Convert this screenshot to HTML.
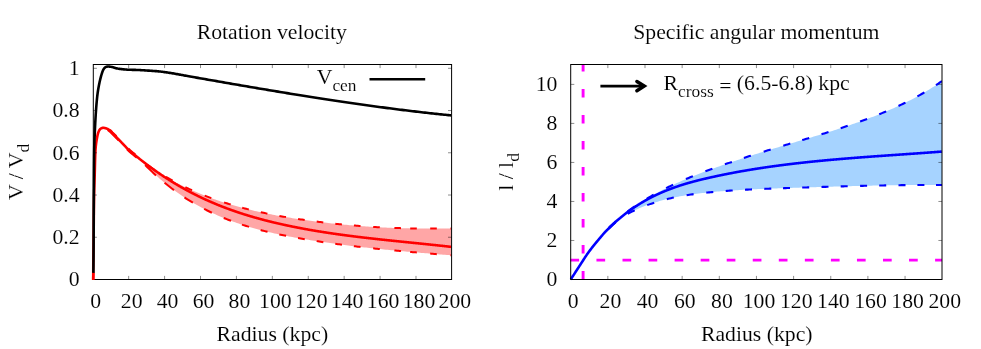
<!DOCTYPE html>
<html><head><meta charset="utf-8"><title>plot</title>
<style>html,body{margin:0;padding:0;background:#fff;}svg{display:block;will-change:transform;}body{font-family:"Liberation Serif",serif;}</style></head>
<body>
<svg width="981" height="349" viewBox="0 0 981 349" font-family='"Liberation Serif", serif' fill="#000">
<style>text{stroke:#fff;stroke-width:0.1px;}</style>
<rect width="981" height="349" fill="#fff"/>
<defs><clipPath id="cl"><rect x="91.7" y="64.5" width="359.9" height="215.6"/></clipPath><clipPath id="cr"><rect x="569.7" y="64.5" width="372.3" height="216.2"/></clipPath></defs>
<g clip-path="url(#cl)">
<path d="M140 159.55 L141.79 160.89 L141.79 161.54 L140 159.64Z M141.79 160.89 L143.59 162.21 L143.59 163.4 L141.79 161.54Z M143.59 162.21 L145.38 163.5 L145.38 165.23 L143.59 163.4Z M145.38 163.5 L147.18 164.77 L147.18 167.03 L145.38 165.23Z M147.18 164.77 L148.97 166.02 L148.97 168.79 L147.18 167.03Z M148.97 166.02 L150.76 167.25 L150.76 170.52 L148.97 168.79Z M150.76 167.25 L152.56 168.46 L152.56 172.22 L150.76 170.52Z M152.56 168.46 L154.35 169.65 L154.35 173.89 L152.56 172.22Z M154.35 169.65 L156.15 170.82 L156.15 175.52 L154.35 173.89Z M156.15 170.82 L157.94 171.96 L157.94 177.12 L156.15 175.52Z M157.94 171.96 L159.73 173.09 L159.73 178.69 L157.94 177.12Z M159.73 173.09 L161.53 174.2 L161.53 180.24 L159.73 178.69Z M161.53 174.2 L163.32 175.29 L163.32 181.75 L161.53 180.24Z M163.32 175.29 L165.12 176.36 L165.12 183.23 L163.32 181.75Z M165.12 176.36 L166.91 177.41 L166.91 184.68 L165.12 183.23Z M166.91 177.41 L168.7 178.44 L168.7 186.11 L166.91 184.68Z M168.7 178.44 L170.5 179.45 L170.5 187.5 L168.7 186.11Z M170.5 179.45 L172.29 180.45 L172.29 188.87 L170.5 187.5Z M172.29 180.45 L174.09 181.42 L174.09 190.21 L172.29 188.87Z M174.09 181.42 L175.88 182.38 L175.88 191.52 L174.09 190.21Z M175.88 182.38 L177.67 183.33 L177.67 192.81 L175.88 191.52Z M177.67 183.33 L179.47 184.25 L179.47 194.07 L177.67 192.81Z M179.47 184.25 L181.26 185.16 L181.26 195.3 L179.47 194.07Z M181.26 185.16 L183.06 186.05 L183.06 196.51 L181.26 195.3Z M183.06 186.05 L184.85 186.93 L184.85 197.69 L183.06 196.51Z M184.85 186.93 L186.64 187.79 L186.64 198.85 L184.85 197.69Z M186.64 187.79 L188.44 188.63 L188.44 199.98 L186.64 198.85Z M188.44 188.63 L190.23 189.46 L190.23 201.09 L188.44 199.98Z M190.23 189.46 L192.03 190.27 L192.03 202.18 L190.23 201.09Z M192.03 190.27 L193.82 191.07 L193.82 203.24 L192.03 202.18Z M193.82 191.07 L195.61 191.85 L195.61 204.28 L193.82 203.24Z M195.61 191.85 L197.41 192.62 L197.41 205.3 L195.61 204.28Z M197.41 192.62 L199.2 193.37 L199.2 206.3 L197.41 205.3Z M199.2 193.37 L201 194.11 L201 207.27 L199.2 206.3Z M201 194.11 L202.79 194.84 L202.79 208.23 L201 207.27Z M202.79 194.84 L204.58 195.55 L204.58 209.16 L202.79 208.23Z M204.58 195.55 L206.38 196.25 L206.38 210.07 L204.58 209.16Z M206.38 196.25 L208.17 196.93 L208.17 210.97 L206.38 210.07Z M208.17 196.93 L209.97 197.6 L209.97 211.84 L208.17 210.97Z M209.97 197.6 L211.76 198.26 L211.76 212.7 L209.97 211.84Z M211.76 198.26 L213.55 198.91 L213.55 213.53 L211.76 212.7Z M213.55 198.91 L215.35 199.55 L215.35 214.35 L213.55 213.53Z M215.35 199.55 L217.14 200.17 L217.14 215.15 L215.35 214.35Z M217.14 200.17 L218.94 200.78 L218.94 215.94 L217.14 215.15Z M218.94 200.78 L220.73 201.38 L220.73 216.7 L218.94 215.94Z M220.73 201.38 L222.52 201.97 L222.52 217.45 L220.73 216.7Z M222.52 201.97 L224.32 202.55 L224.32 218.19 L222.52 217.45Z M224.32 202.55 L226.11 203.12 L226.11 218.91 L224.32 218.19Z M226.11 203.12 L227.91 203.68 L227.91 219.61 L226.11 218.91Z M227.91 203.68 L229.7 204.22 L229.7 220.3 L227.91 219.61Z M229.7 204.22 L231.49 204.76 L231.49 220.97 L229.7 220.3Z M231.49 204.76 L233.29 205.29 L233.29 221.63 L231.49 220.97Z M233.29 205.29 L235.08 205.81 L235.08 222.28 L233.29 221.63Z M235.08 205.81 L236.88 206.32 L236.88 222.91 L235.08 222.28Z M236.88 206.32 L238.67 206.82 L238.67 223.53 L236.88 222.91Z M238.67 206.82 L240.46 207.3 L240.46 224.13 L238.67 223.53Z M240.46 207.3 L242.26 207.79 L242.26 224.72 L240.46 224.13Z M242.26 207.79 L244.05 208.26 L244.05 225.3 L242.26 224.72Z M244.05 208.26 L245.85 208.72 L245.85 225.86 L244.05 225.3Z M245.85 208.72 L247.64 209.17 L247.64 226.42 L245.85 225.86Z M247.64 209.17 L249.43 209.62 L249.43 226.96 L247.64 226.42Z M249.43 209.62 L251.23 210.06 L251.23 227.49 L249.43 226.96Z M251.23 210.06 L253.02 210.49 L253.02 228.01 L251.23 227.49Z M253.02 210.49 L254.82 210.91 L254.82 228.51 L253.02 228.01Z M254.82 210.91 L256.61 211.32 L256.61 229.01 L254.82 228.51Z M256.61 211.32 L258.4 211.73 L258.4 229.5 L256.61 229.01Z M258.4 211.73 L260.2 212.12 L260.2 229.97 L258.4 229.5Z M260.2 212.12 L261.99 212.52 L261.99 230.44 L260.2 229.97Z M261.99 212.52 L263.79 212.9 L263.79 230.89 L261.99 230.44Z M263.79 212.9 L265.58 213.27 L265.58 231.34 L263.79 230.89Z M265.58 213.27 L267.37 213.64 L267.37 231.77 L265.58 231.34Z M267.37 213.64 L269.17 214.01 L269.17 232.2 L267.37 231.77Z M269.17 214.01 L270.96 214.36 L270.96 232.62 L269.17 232.2Z M270.96 214.36 L272.76 214.71 L272.76 233.03 L270.96 232.62Z M272.76 214.71 L274.55 215.05 L274.55 233.43 L272.76 233.03Z M274.55 215.05 L276.34 215.39 L276.34 233.82 L274.55 233.43Z M276.34 215.39 L278.14 215.72 L278.14 234.21 L276.34 233.82Z M278.14 215.72 L279.93 216.04 L279.93 234.59 L278.14 234.21Z M279.93 216.04 L281.73 216.36 L281.73 234.96 L279.93 234.59Z M281.73 216.36 L283.52 216.67 L283.52 235.32 L281.73 234.96Z M283.52 216.67 L285.31 216.98 L285.31 235.68 L283.52 235.32Z M285.31 216.98 L287.11 217.28 L287.11 236.03 L285.31 235.68Z M287.11 217.28 L288.9 217.58 L288.9 236.38 L287.11 236.03Z M288.9 217.58 L290.7 217.87 L290.7 236.72 L288.9 236.38Z M290.7 217.87 L292.49 218.16 L292.49 237.05 L290.7 236.72Z M292.49 218.16 L294.28 218.44 L294.28 237.38 L292.49 237.05Z M294.28 218.44 L296.08 218.72 L296.08 237.7 L294.28 237.38Z M296.08 218.72 L297.87 218.99 L297.87 238.02 L296.08 237.7Z M297.87 218.99 L299.67 219.26 L299.67 238.34 L297.87 238.02Z M299.67 219.26 L301.46 219.52 L301.46 238.65 L299.67 238.34Z M301.46 219.52 L303.25 219.78 L303.25 238.96 L301.46 238.65Z M303.25 219.78 L305.05 220.04 L305.05 239.26 L303.25 238.96Z M305.05 220.04 L306.84 220.29 L306.84 239.56 L305.05 239.26Z M306.84 220.29 L308.64 220.54 L308.64 239.85 L306.84 239.56Z M308.64 220.54 L310.43 220.78 L310.43 240.14 L308.64 239.85Z M310.43 220.78 L312.22 221.02 L312.22 240.43 L310.43 240.14Z M312.22 221.02 L314.02 221.26 L314.02 240.72 L312.22 240.43Z M314.02 221.26 L315.81 221.49 L315.81 241 L314.02 240.72Z M315.81 221.49 L317.61 221.72 L317.61 241.27 L315.81 241Z M317.61 221.72 L319.4 221.94 L319.4 241.55 L317.61 241.27Z M319.4 221.94 L321.19 222.16 L321.19 241.82 L319.4 241.55Z M321.19 222.16 L322.99 222.38 L322.99 242.08 L321.19 241.82Z M322.99 222.38 L324.78 222.59 L324.78 242.35 L322.99 242.08Z M324.78 222.59 L326.58 222.8 L326.58 242.61 L324.78 242.35Z M326.58 222.8 L328.37 223.01 L328.37 242.86 L326.58 242.61Z M328.37 223.01 L330.16 223.21 L330.16 243.12 L328.37 242.86Z M330.16 223.21 L331.96 223.4 L331.96 243.37 L330.16 243.12Z M331.96 223.4 L333.75 223.6 L333.75 243.61 L331.96 243.37Z M333.75 223.6 L335.55 223.79 L335.55 243.86 L333.75 243.61Z M335.55 223.79 L337.34 223.97 L337.34 244.1 L335.55 243.86Z M337.34 223.97 L339.13 224.15 L339.13 244.34 L337.34 244.1Z M339.13 224.15 L340.93 224.33 L340.93 244.57 L339.13 244.34Z M340.93 224.33 L342.72 224.5 L342.72 244.81 L340.93 244.57Z M342.72 224.5 L344.52 224.68 L344.52 245.03 L342.72 244.81Z M344.52 224.68 L346.31 224.84 L346.31 245.26 L344.52 245.03Z M346.31 224.84 L348.1 225 L348.1 245.49 L346.31 245.26Z M348.1 225 L349.9 225.16 L349.9 245.71 L348.1 245.49Z M349.9 225.16 L351.69 225.32 L351.69 245.93 L349.9 245.71Z M351.69 225.32 L353.49 225.47 L353.49 246.14 L351.69 245.93Z M353.49 225.47 L355.28 225.62 L355.28 246.35 L353.49 246.14Z M355.28 225.62 L357.07 225.76 L357.07 246.57 L355.28 246.35Z M357.07 225.76 L358.87 225.9 L358.87 246.77 L357.07 246.57Z M358.87 225.9 L360.66 226.04 L360.66 246.98 L358.87 246.77Z M360.66 226.04 L362.46 226.17 L362.46 247.18 L360.66 246.98Z M362.46 226.17 L364.25 226.3 L364.25 247.39 L362.46 247.18Z M364.25 226.3 L366.04 226.43 L366.04 247.59 L364.25 247.39Z M366.04 226.43 L367.84 226.55 L367.84 247.78 L366.04 247.59Z M367.84 226.55 L369.63 226.67 L369.63 247.98 L367.84 247.78Z M369.63 226.67 L371.43 226.78 L371.43 248.17 L369.63 247.98Z M371.43 226.78 L373.22 226.89 L373.22 248.36 L371.43 248.17Z M373.22 226.89 L375.01 227 L375.01 248.55 L373.22 248.36Z M375.01 227 L376.81 227.11 L376.81 248.74 L375.01 248.55Z M376.81 227.11 L378.6 227.21 L378.6 248.92 L376.81 248.74Z M378.6 227.21 L380.4 227.3 L380.4 249.1 L378.6 248.92Z M380.4 227.3 L382.19 227.4 L382.19 249.28 L380.4 249.1Z M382.19 227.4 L383.98 227.49 L383.98 249.46 L382.19 249.28Z M383.98 227.49 L385.78 227.57 L385.78 249.64 L383.98 249.46Z M385.78 227.57 L387.57 227.65 L387.57 249.82 L385.78 249.64Z M387.57 227.65 L389.37 227.73 L389.37 249.99 L387.57 249.82Z M389.37 227.73 L391.16 227.81 L391.16 250.16 L389.37 249.99Z M391.16 227.81 L392.95 227.88 L392.95 250.33 L391.16 250.16Z M392.95 227.88 L394.75 227.95 L394.75 250.5 L392.95 250.33Z M394.75 227.95 L396.54 228.01 L396.54 250.67 L394.75 250.5Z M396.54 228.01 L398.34 228.08 L398.34 250.84 L396.54 250.67Z M398.34 228.08 L400.13 228.13 L400.13 251 L398.34 250.84Z M400.13 228.13 L401.92 228.19 L401.92 251.17 L400.13 251Z M401.92 228.19 L403.72 228.24 L403.72 251.33 L401.92 251.17Z M403.72 228.24 L405.51 228.29 L405.51 251.49 L403.72 251.33Z M405.51 228.29 L407.31 228.33 L407.31 251.65 L405.51 251.49Z M407.31 228.33 L409.1 228.37 L409.1 251.81 L407.31 251.65Z M409.1 228.37 L410.89 228.41 L410.89 251.97 L409.1 251.81Z M410.89 228.41 L412.69 228.45 L412.69 252.13 L410.89 251.97Z M412.69 228.45 L414.48 228.48 L414.48 252.28 L412.69 252.13Z M414.48 228.48 L416.28 228.5 L416.28 252.44 L414.48 252.28Z M416.28 228.5 L418.07 228.53 L418.07 252.59 L416.28 252.44Z M418.07 228.53 L419.86 228.55 L419.86 252.74 L418.07 252.59Z M419.86 228.55 L421.66 228.57 L421.66 252.9 L419.86 252.74Z M421.66 228.57 L423.45 228.58 L423.45 253.05 L421.66 252.9Z M423.45 228.58 L425.25 228.59 L425.25 253.2 L423.45 253.05Z M425.25 228.59 L427.04 228.6 L427.04 253.35 L425.25 253.2Z M427.04 228.6 L428.83 228.6 L428.83 253.5 L427.04 253.35Z M428.83 228.6 L430.63 228.6 L430.63 253.65 L428.83 253.5Z M430.63 228.6 L432.42 228.6 L432.42 253.8 L430.63 253.65Z M432.42 228.6 L434.22 228.6 L434.22 253.95 L432.42 253.8Z M434.22 228.6 L436.01 228.59 L436.01 254.09 L434.22 253.95Z M436.01 228.59 L437.8 228.58 L437.8 254.24 L436.01 254.09Z M437.8 228.58 L439.6 228.56 L439.6 254.39 L437.8 254.24Z M439.6 228.56 L441.39 228.55 L441.39 254.54 L439.6 254.39Z M441.39 228.55 L443.19 228.52 L443.19 254.68 L441.39 254.54Z M443.19 228.52 L444.98 228.5 L444.98 254.83 L443.19 254.68Z M444.98 228.5 L446.77 228.47 L446.77 254.97 L444.98 254.83Z M446.77 228.47 L448.57 228.44 L448.57 255.12 L446.77 254.97Z M448.57 228.44 L450.36 228.41 L450.36 255.27 L448.57 255.12Z M450.36 228.41 L451.6 228.38 L451.6 255.37 L450.36 255.27Z" fill="rgb(255,166,166)" stroke="none"/>
<path d="M109.9 129.64 L111.22 130.97 L112.54 132.35 L113.86 133.64 L115.18 134.94 L116.5 136.27 M128.6 148.84 L129.92 150.06 L131.24 151.21 L132.56 152.31 L133.88 153.36 L135.2 154.4 M147.3 164.86 L148.62 165.78 L149.94 166.69 L151.26 167.59 L152.58 168.47 L153.9 169.35 M166 176.88 L167.32 177.64 L168.64 178.4 L169.96 179.15 L171.28 179.89 L172.6 180.62 M185.4 187.19 L186.72 187.82 L188.04 188.45 L189.36 189.06 L190.68 189.66 L192 190.26 M204.7 195.59 L206.02 196.11 L207.34 196.62 L208.66 197.12 L209.98 197.61 L211.3 198.1 M224.1 202.48 L225.42 202.9 L226.74 203.32 L228.06 203.72 L229.38 204.13 L230.7 204.53 M242.2 207.77 L243.52 208.12 L244.84 208.46 L246.16 208.8 L247.48 209.13 L248.8 209.46 M260.8 212.26 L262.12 212.54 L263.44 212.83 L264.76 213.1 L266.08 213.38 L267.4 213.65 M279.4 215.95 L280.72 216.18 L282.04 216.42 L283.36 216.65 L284.68 216.87 L286 217.1 M298.1 219.02 L299.42 219.22 L300.74 219.42 L302.06 219.61 L303.38 219.8 L304.7 219.99 M316.7 221.6 L318.02 221.77 L319.34 221.94 L320.66 222.1 L321.98 222.26 L323.3 222.42 M335.3 223.76 L336.62 223.9 L337.94 224.03 L339.26 224.17 L340.58 224.3 L341.9 224.43 M353.9 225.5 L355.22 225.61 L356.54 225.72 L357.86 225.82 L359.18 225.93 L360.5 226.03 M373.2 226.89 L374.52 226.97 L375.84 227.05 L377.16 227.13 L378.48 227.2 L379.8 227.27 M394.4 227.94 L395.72 227.99 L397.04 228.03 L398.36 228.08 L399.68 228.12 L401 228.16 M410.2 228.4 L411.52 228.42 L412.84 228.45 L414.16 228.47 L415.48 228.49 L416.8 228.51 M430.2 228.6 L431.52 228.6 L432.84 228.6 L434.16 228.6 L435.48 228.59 L436.8 228.59 M450.5 228.4 L450.72 228.4 L450.94 228.39 L451.16 228.39 L451.38 228.38 L451.6 228.38" stroke="#f00" stroke-width="2.0" fill="none"/>
<path d="M107.65 130.02 L109.87 131.62 L112.09 133.88 L114.31 136.08 L116.53 138.3 L118.75 140.56 M127 149.24 L128.96 151.19 L130.92 152.94 L132.88 154.56 L134.84 156.12 L136.8 157.64 M145.18 165.03 L147.35 167.2 L149.52 169.32 L151.68 171.4 L153.85 173.42 L156.02 175.4 M164.59 182.8 L166.48 184.33 L168.36 185.83 L170.24 187.3 L172.12 188.74 L174.01 190.15 M184.5 197.46 L186.18 198.55 L187.86 199.62 L189.54 200.67 L191.22 201.69 L192.9 202.7 M204.14 208.93 L205.68 209.72 L207.23 210.5 L208.77 211.26 L210.32 212.01 L211.86 212.75 M223.75 217.96 L225.21 218.55 L226.67 219.13 L228.13 219.7 L229.59 220.26 L231.05 220.81 M241.97 224.63 L243.38 225.09 L244.79 225.53 L246.21 225.98 L247.62 226.41 L249.03 226.84 M260.66 230.09 L262.03 230.45 L263.41 230.8 L264.79 231.14 L266.17 231.48 L267.54 231.81 M279.3 234.46 L280.66 234.74 L282.02 235.02 L283.38 235.3 L284.74 235.57 L286.1 235.84 M298.03 238.05 L299.38 238.29 L300.73 238.52 L302.07 238.75 L303.42 238.98 L304.77 239.21 M316.65 241.13 L317.99 241.33 L319.33 241.54 L320.67 241.74 L322.01 241.94 L323.35 242.14 M335.26 243.82 L336.6 244 L337.93 244.18 L339.27 244.36 L340.6 244.53 L341.94 244.7 M353.87 246.19 L355.2 246.35 L356.53 246.5 L357.87 246.66 L359.2 246.81 L360.53 246.97 M373.18 248.36 L374.51 248.5 L375.84 248.63 L377.16 248.77 L378.49 248.91 L379.82 249.05 M394.38 250.47 L395.71 250.59 L397.04 250.72 L398.36 250.84 L399.69 250.96 L401.02 251.08 M410.18 251.91 L411.51 252.02 L412.84 252.14 L414.16 252.25 L415.49 252.37 L416.82 252.48 M430.18 253.61 L431.51 253.72 L432.84 253.83 L434.16 253.94 L435.49 254.05 L436.82 254.16 M450.48 255.28 L450.71 255.3 L450.93 255.31 L451.15 255.33 L451.38 255.35 L451.6 255.37" stroke="#f00" stroke-width="2.0" fill="none"/>
<path d="M93 279.5 L93.02 278.34 L93.04 277.18 L93.06 276.02 L93.08 274.86 L93.1 273.7 L93.12 272.54 L93.14 271.38 L93.16 270.21 L93.18 269.05 L93.2 267.89 L93.22 266.73 L93.24 265.57 L93.26 264.4 L93.27 263.24 L93.29 262.08 L93.31 260.92 L93.33 259.75 L93.35 258.59 L93.36 257.42 L93.38 256.26 L93.4 255.1 L93.41 253.93 L93.43 252.77 L93.45 251.6 L93.46 250.44 L93.48 249.27 L93.5 248.11 L93.51 246.94 L93.53 245.77 L93.54 244.61 L93.56 243.44 L93.57 242.27 L93.59 241.11 L93.6 239.94 L93.61 238.77 L93.63 237.59 L93.64 236.4 L93.65 235.21 L93.66 234.01 L93.68 232.81 L93.69 231.6 L93.7 230.39 L93.71 229.17 L93.72 227.95 L93.73 226.74 L93.74 225.52 L93.75 224.3 L93.76 223.08 L93.77 221.87 L93.78 220.66 L93.79 219.45 L93.8 218.24 L93.81 217.04 L93.82 215.85 L93.83 214.66 L93.84 213.48 L93.85 212.3 L93.86 211.14 L93.87 209.98 L93.89 208.83 L93.9 207.7 L93.91 206.58 L93.92 205.46 L93.94 204.36 L93.95 203.28 L93.97 202.21 L93.98 201.15 L94 200.12 L94.02 199.09 L94.03 198.08 L94.05 197.09 L94.07 196.11 L94.09 195.14 L94.12 194.18 L94.14 193.23 L94.16 192.29 L94.19 191.36 L94.21 190.44 L94.24 189.52 L94.27 188.61 L94.29 187.71 L94.32 186.81 L94.35 185.91 L94.38 185.02 L94.41 184.12 L94.44 183.23 L94.47 182.34 L94.5 181.45 L94.52 180.56 L94.55 179.66 L94.58 178.76 L94.61 177.86 L94.64 176.95 L94.67 176.04 L94.7 175.11 L94.72 174.18 L94.75 173.24 L94.78 172.29 L94.8 171.33 L94.83 170.36 L94.85 169.38 L94.88 168.4 L94.9 167.42 L94.93 166.44 L94.95 165.45 L94.98 164.47 L95 163.49 L95.03 162.51 L95.05 161.54 L95.08 160.58 L95.11 159.62 L95.14 158.68 L95.17 157.75 L95.2 156.83 L95.23 155.92 L95.26 155.03 L95.3 154.16 L95.33 153.3 L95.37 152.47 L95.41 151.66 L95.45 150.87 L95.49 150.1 L95.54 149.36 L95.59 148.63 L95.65 147.9 L95.71 147.19 L95.78 146.49 L95.85 145.8 L95.93 145.13 L96.01 144.46 L96.09 143.81 L96.17 143.17 L96.26 142.54 L96.35 141.92 L96.44 141.32 L96.54 140.72 L96.63 140.14 L96.72 139.58 L96.82 139.03 L96.91 138.49 L97.01 137.96 L97.1 137.44 L97.2 136.94 L97.29 136.44 L97.39 135.96 L97.5 135.48 L97.6 135.02 L97.71 134.57 L97.82 134.13 L97.94 133.7 L98.06 133.29 L98.18 132.89 L98.31 132.5 L98.45 132.13 L98.59 131.77 L98.75 131.4 L98.91 131.04 L99.09 130.68 L99.27 130.34 L99.46 130.01 L99.66 129.7 L99.87 129.42 L100.08 129.17 L100.31 128.95 L100.54 128.78 L100.79 128.62 L101.06 128.46 L101.35 128.31 L101.65 128.17 L101.97 128.05 L102.28 127.95 L102.6 127.87 L102.9 127.82 L103.2 127.8 L103.48 127.81 L103.76 127.83 L104.04 127.87 L104.32 127.92 L104.59 127.98 L104.87 128.05 L105.15 128.11 L105.43 128.18 L105.7 128.25 L105.98 128.33 L106.25 128.42 L106.52 128.52 L106.8 128.63 L107.08 128.75 L107.36 128.88 L107.65 129.02 L107.96 129.18 L108.28 129.36 L108.61 129.58 L108.95 129.84 L109.3 130.13 L109.66 130.45 L110.02 130.79 L110.39 131.15 L110.76 131.52 L111.13 131.9 L111.51 132.29 L111.88 132.67 L112.25 133.05 L112.62 133.42 L112.97 133.78 L113.33 134.12 L113.68 134.46 L114.03 134.8 L114.38 135.15 L114.73 135.49 L115.08 135.84 L115.43 136.19 L115.77 136.54 L116.12 136.89 L116.47 137.24 L116.81 137.59 L117.16 137.94 L117.51 138.29 L117.85 138.65 L118.2 139 L118.54 139.35 L118.88 139.7 L119.22 140.06 L119.56 140.41 L119.9 140.76 L120.24 141.11 L120.58 141.47 L120.92 141.82 L121.26 142.18 L121.61 142.54 L121.95 142.91 L122.3 143.27 L122.66 143.64 L123.02 144.02 L123.38 144.39 L123.74 144.78 L124.11 145.16 L124.47 145.55 L124.84 145.94 L125.21 146.34 L125.58 146.73 L125.95 147.13 L126.33 147.54 L126.71 147.94 L127.1 148.34 L127.5 148.75 L127.9 149.15 L128.31 149.55 L128.72 149.96 L129.15 150.36 L129.59 150.76 L130.05 151.18 L130.53 151.6 L131.03 152.03 L131.55 152.46 L132.07 152.9 L132.61 153.33 L133.15 153.77 L133.69 154.21 L134.24 154.64 L134.78 155.07 L135.31 155.49 L135.84 155.9 L136.35 156.3 L136.85 156.69 L137.34 157.07 L137.8 157.43 L138.23 157.77 L138.64 158.1 L139.02 158.41 L139.39 158.7 L139.74 158.98 L140.07 159.25 L140.4 159.5 L140.71 159.76 L141.03 160 L141.33 160.25 L141.64 160.49 L141.95 160.73 L142.26 160.98 L142.58 161.23 L142.91 161.49 L143.24 161.74 L143.57 162 L143.9 162.25 L144.23 162.51 L144.56 162.76 L144.89 163.02 L145.22 163.27 L145.55 163.52 L145.88 163.77 L146.21 164.02 L146.54 164.28 L146.87 164.53 L147.2 164.78 L147.53 165.02 L147.86 165.27 L148.19 165.52 L148.52 165.77 L148.86 166.02 L149.19 166.26 L149.52 166.51 L149.85 166.75 L150.18 167 L150.52 167.24 L150.85 167.49 L151.18 167.73 L151.51 167.97 L151.85 168.22 L152.18 168.46 L152.51 168.7 L152.85 168.94 L153.18 169.18 L153.51 169.42 L153.85 169.66 L154.18 169.9 L154.52 170.13 L154.85 170.37 L155.19 170.61 L155.52 170.84 L155.85 171.08 L156.19 171.32 L156.52 171.55 L156.86 171.78 L157.2 172.02 L157.53 172.25 L157.87 172.48 L158.2 172.72 L158.54 172.95 L158.87 173.18 L159.21 173.41 L159.55 173.64 L159.88 173.87 L160.22 174.1 L160.56 174.32 L160.89 174.55 L161.23 174.78 L161.57 175.01 L161.91 175.23 L162.24 175.46 L162.58 175.68 L162.92 175.91 L163.26 176.13 L163.6 176.35 L163.93 176.58 L164.27 176.8 L164.61 177.02 L164.95 177.24 L165.29 177.46 L165.63 177.68 L165.97 177.9 L166.31 178.12 L166.65 178.34 L166.99 178.56 L167.33 178.78 L167.67 178.99 L168.01 179.21 L168.35 179.43 L168.69 179.64 L169.03 179.86 L169.37 180.07 L169.71 180.29 L170.05 180.5 L170.39 180.71 L170.73 180.92 L171.07 181.14 L171.41 181.35 L171.76 181.56 L172.1 181.77 L172.44 181.98 L172.78 182.19 L173.12 182.39 L173.47 182.6 L173.81 182.81 L174.15 183.02 L174.49 183.22 L174.84 183.43 L175.18 183.63 L175.52 183.84 L175.87 184.04 L176.21 184.25 L176.55 184.45 L176.9 184.65 L177.24 184.86 L177.58 185.06 L177.93 185.26 L178.27 185.46 L178.62 185.66 L178.96 185.86 L179.31 186.06 L179.65 186.26 L180 186.46 L180.34 186.65 L180.69 186.85 L181.03 187.05 L181.38 187.24 L181.72 187.44 L182.07 187.63 L182.41 187.83 L182.76 188.02 L183.1 188.21 L183.45 188.41 L183.8 188.6 L184.14 188.79 L184.49 188.98 L184.84 189.17 L185.18 189.36 L185.53 189.55 L185.88 189.74 L186.22 189.93 L186.57 190.12 L186.92 190.31 L187.27 190.5 L187.61 190.68 L187.96 190.87 L188.31 191.05 L188.66 191.24 L189 191.42 L189.35 191.61 L189.7 191.79 L190.05 191.97 L190.4 192.16 L190.75 192.34 L191.09 192.52 L191.44 192.7 L191.79 192.88 L192.14 193.06 L192.49 193.24 L192.84 193.42 L193.19 193.6 L193.54 193.78 L193.89 193.96 L194.24 194.13 L194.59 194.31 L194.94 194.48 L195.29 194.66 L195.64 194.84 L195.99 195.01 L196.34 195.18 L196.69 195.36 L197.04 195.53 L197.39 195.7 L197.74 195.88 L198.09 196.05 L198.44 196.22 L198.8 196.39 L199.15 196.56 L199.5 196.73 L199.85 196.9 L200.2 197.07 L200.55 197.23 L200.9 197.4 L201.26 197.57 L201.61 197.74 L201.96 197.9 L202.31 198.07 L202.66 198.23 L203.02 198.4 L203.37 198.56 L203.72 198.73 L204.08 198.89 L204.43 199.05 L204.78 199.21 L205.13 199.38 L205.49 199.54 L205.84 199.7 L206.19 199.86 L206.55 200.02 L206.9 200.18 L207.25 200.34 L207.61 200.49 L207.96 200.65 L208.32 200.81 L208.67 200.97 L209.02 201.12 L209.38 201.28 L209.73 201.43 L210.09 201.59 L210.44 201.74 L210.8 201.9 L211.15 202.05 L211.51 202.21 L211.86 202.36 L212.22 202.51 L212.57 202.66 L212.93 202.81 L213.28 202.96 L213.64 203.11 L213.99 203.26 L214.35 203.41 L214.7 203.56 L215.06 203.71 L215.41 203.86 L215.77 204.01 L216.13 204.15 L216.48 204.3 L216.84 204.45 L217.19 204.59 L217.55 204.74 L217.91 204.88 L218.26 205.03 L218.62 205.17 L218.98 205.32 L219.33 205.46 L219.69 205.6 L220.05 205.74 L220.4 205.89 L220.76 206.03 L221.12 206.17 L221.48 206.31 L221.83 206.45 L222.19 206.59 L222.55 206.73 L222.91 206.87 L223.26 207 L223.62 207.14 L223.98 207.28 L224.34 207.42 L224.69 207.55 L225.05 207.69 L225.41 207.82 L225.77 207.96 L226.13 208.09 L226.48 208.23 L226.84 208.36 L227.2 208.49 L227.56 208.63 L227.92 208.76 L228.28 208.89 L228.64 209.02 L228.99 209.16 L229.35 209.29 L229.71 209.42 L230.07 209.55 L230.43 209.68 L230.79 209.81 L231.15 209.93 L231.51 210.06 L231.87 210.19 L232.23 210.32 L232.59 210.44 L232.95 210.57 L233.31 210.7 L233.67 210.82 L234.03 210.95 L234.39 211.07 L234.75 211.2 L235.11 211.32 L235.47 211.45 L235.83 211.57 L236.19 211.69 L236.55 211.82 L236.91 211.94 L237.27 212.06 L237.63 212.18 L237.99 212.3 L238.35 212.42 L238.71 212.54 L239.07 212.66 L239.43 212.78 L239.79 212.9 L240.15 213.02 L240.51 213.14 L240.87 213.25 L241.24 213.37 L241.6 213.49 L241.96 213.61 L242.32 213.72 L242.68 213.84 L243.04 213.95 L243.4 214.07 L243.77 214.18 L244.13 214.3 L244.49 214.41 L244.85 214.52 L245.21 214.64 L245.57 214.75 L245.94 214.86 L246.3 214.98 L246.66 215.09 L247.02 215.2 L247.38 215.31 L247.75 215.42 L248.11 215.53 L248.47 215.64 L248.83 215.75 L249.19 215.86 L249.56 215.97 L249.92 216.08 L250.28 216.18 L250.64 216.29 L251.01 216.4 L251.37 216.51 L251.73 216.61 L252.09 216.72 L252.46 216.82 L252.82 216.93 L253.18 217.03 L253.55 217.14 L253.91 217.24 L254.27 217.35 L254.64 217.45 L255 217.56 L255.36 217.66 L255.72 217.76 L256.09 217.86 L256.45 217.97 L256.81 218.07 L257.18 218.17 L257.54 218.27 L257.91 218.37 L258.27 218.47 L258.63 218.57 L259 218.67 L259.36 218.77 L259.72 218.87 L260.09 218.97 L260.45 219.07 L260.81 219.16 L261.18 219.26 L261.54 219.36 L261.91 219.46 L262.27 219.55 L262.63 219.65 L263 219.75 L263.36 219.84 L263.73 219.94 L264.09 220.03 L264.46 220.13 L264.82 220.22 L265.18 220.32 L265.55 220.41 L265.91 220.5 L266.28 220.6 L266.64 220.69 L267.01 220.78 L267.37 220.87 L267.74 220.97 L268.1 221.06 L268.46 221.15 L268.83 221.24 L269.19 221.33 L269.56 221.42 L269.92 221.51 L270.29 221.6 L270.65 221.69 L271.02 221.78 L271.38 221.87 L271.75 221.96 L272.11 222.05 L272.48 222.14 L272.84 222.23 L273.21 222.31 L273.57 222.4 L273.94 222.49 L274.3 222.58 L274.67 222.66 L275.03 222.75 L275.4 222.83 L275.77 222.92 L276.13 223.01 L276.5 223.09 L276.86 223.18 L277.23 223.26 L277.59 223.35 L277.96 223.43 L278.32 223.51 L278.69 223.6 L279.05 223.68 L279.42 223.76 L279.79 223.85 L280.15 223.93 L280.52 224.01 L280.88 224.09 L281.25 224.18 L281.61 224.26 L281.98 224.34 L282.35 224.42 L282.71 224.5 L283.08 224.58 L283.44 224.66 L283.81 224.74 L284.18 224.82 L284.54 224.9 L284.91 224.98 L285.27 225.06 L285.64 225.14 L286.01 225.22 L286.37 225.3 L286.74 225.38 L287.1 225.45 L287.47 225.53 L287.84 225.61 L288.2 225.69 L288.57 225.76 L288.94 225.84 L289.3 225.92 L289.67 225.99 L290.03 226.07 L290.4 226.15 L290.77 226.22 L291.13 226.3 L291.5 226.37 L291.87 226.45 L292.23 226.52 L292.6 226.6 L292.97 226.67 L293.33 226.74 L293.7 226.82 L294.07 226.89 L294.43 226.97 L294.8 227.04 L295.17 227.11 L295.53 227.18 L295.9 227.26 L296.27 227.33 L296.63 227.4 L297 227.47 L297.37 227.55 L297.73 227.62 L298.1 227.69 L298.47 227.76 L298.83 227.83 L299.2 227.9 L299.57 227.97 L299.94 228.04 L300.3 228.11 L300.67 228.18 L301.04 228.25 L301.4 228.32 L301.77 228.39 L302.14 228.46 L302.5 228.53 L302.87 228.59 L303.24 228.66 L303.61 228.73 L303.97 228.8 L304.34 228.87 L304.71 228.93 L305.08 229 L305.44 229.07 L305.81 229.14 L306.18 229.2 L306.54 229.27 L306.91 229.33 L307.28 229.4 L307.65 229.47 L308.01 229.53 L308.38 229.6 L308.75 229.66 L309.12 229.73 L309.48 229.79 L309.85 229.86 L310.22 229.92 L310.59 229.99 L310.95 230.05 L311.32 230.11 L311.69 230.18 L312.06 230.24 L312.42 230.3 L312.79 230.37 L313.16 230.43 L313.53 230.49 L313.89 230.56 L314.26 230.62 L314.63 230.68 L315 230.74 L315.36 230.8 L315.73 230.87 L316.1 230.93 L316.47 230.99 L316.84 231.05 L317.2 231.11 L317.57 231.17 L317.94 231.23 L318.31 231.29 L318.67 231.35 L319.04 231.41 L319.41 231.47 L319.78 231.53 L320.15 231.59 L320.51 231.65 L320.88 231.71 L321.25 231.77 L321.62 231.83 L321.99 231.89 L322.35 231.94 L322.72 232 L323.09 232.06 L323.46 232.12 L323.83 232.18 L324.19 232.23 L324.56 232.29 L324.93 232.35 L325.3 232.4 L325.67 232.46 L326.03 232.52 L326.4 232.57 L326.77 232.63 L327.14 232.69 L327.51 232.74 L327.88 232.8 L328.24 232.85 L328.61 232.91 L328.98 232.97 L329.35 233.02 L329.72 233.08 L330.08 233.13 L330.45 233.19 L330.82 233.24 L331.19 233.3 L331.56 233.35 L331.93 233.4 L332.29 233.46 L332.66 233.51 L333.03 233.56 L333.4 233.62 L333.77 233.67 L334.14 233.73 L334.5 233.78 L334.87 233.83 L335.24 233.88 L335.61 233.94 L335.98 233.99 L336.35 234.04 L336.71 234.09 L337.08 234.15 L337.45 234.2 L337.82 234.25 L338.19 234.3 L338.56 234.35 L338.93 234.4 L339.29 234.45 L339.66 234.51 L340.03 234.56 L340.4 234.61 L340.77 234.66 L341.14 234.71 L341.51 234.76 L341.87 234.81 L342.24 234.86 L342.61 234.91 L342.98 234.96 L343.35 235.01 L343.72 235.06 L344.09 235.11 L344.45 235.16 L344.82 235.21 L345.19 235.26 L345.56 235.3 L345.93 235.35 L346.3 235.4 L346.67 235.45 L347.03 235.5 L347.4 235.55 L347.77 235.6 L348.14 235.64 L348.51 235.69 L348.88 235.74 L349.25 235.79 L349.62 235.83 L349.98 235.88 L350.35 235.93 L350.72 235.98 L351.09 236.02 L351.46 236.07 L351.83 236.12 L352.2 236.16 L352.57 236.21 L352.93 236.26 L353.3 236.3 L353.67 236.35 L354.04 236.4 L354.41 236.44 L354.78 236.49 L355.15 236.53 L355.52 236.58 L355.89 236.62 L356.25 236.67 L356.62 236.72 L356.99 236.76 L357.36 236.81 L357.73 236.85 L358.1 236.9 L358.47 236.94 L358.84 236.99 L359.21 237.03 L359.57 237.07 L359.94 237.12 L360.31 237.16 L360.68 237.21 L361.05 237.25 L361.42 237.3 L361.79 237.34 L362.16 237.38 L362.53 237.43 L362.9 237.47 L363.26 237.51 L363.63 237.56 L364 237.6 L364.37 237.65 L364.74 237.69 L365.11 237.73 L365.48 237.77 L365.85 237.82 L366.22 237.86 L366.59 237.9 L366.95 237.95 L367.32 237.99 L367.69 238.03 L368.06 238.07 L368.43 238.12 L368.8 238.16 L369.17 238.2 L369.54 238.24 L369.91 238.28 L370.28 238.33 L370.65 238.37 L371.01 238.41 L371.38 238.45 L371.75 238.49 L372.12 238.53 L372.49 238.58 L372.86 238.62 L373.23 238.66 L373.6 238.7 L373.97 238.74 L374.34 238.78 L374.71 238.82 L375.07 238.86 L375.44 238.9 L375.81 238.95 L376.18 238.99 L376.55 239.03 L376.92 239.07 L377.29 239.11 L377.66 239.15 L378.03 239.19 L378.4 239.23 L378.77 239.27 L379.14 239.31 L379.5 239.35 L379.87 239.39 L380.24 239.43 L380.61 239.47 L380.98 239.51 L381.35 239.55 L381.72 239.59 L382.09 239.63 L382.46 239.67 L382.83 239.71 L383.2 239.75 L383.57 239.79 L383.94 239.83 L384.3 239.87 L384.67 239.91 L385.04 239.95 L385.41 239.98 L385.78 240.02 L386.15 240.06 L386.52 240.1 L386.89 240.14 L387.26 240.18 L387.63 240.22 L388 240.26 L388.37 240.3 L388.74 240.34 L389.1 240.37 L389.47 240.41 L389.84 240.45 L390.21 240.49 L390.58 240.53 L390.95 240.57 L391.32 240.61 L391.69 240.64 L392.06 240.68 L392.43 240.72 L392.8 240.76 L393.17 240.8 L393.54 240.84 L393.91 240.87 L394.27 240.91 L394.64 240.95 L395.01 240.99 L395.38 241.03 L395.75 241.07 L396.12 241.1 L396.49 241.14 L396.86 241.18 L397.23 241.22 L397.6 241.26 L397.97 241.29 L398.34 241.33 L398.71 241.37 L399.08 241.41 L399.44 241.45 L399.81 241.48 L400.18 241.52 L400.55 241.56 L400.92 241.6 L401.29 241.63 L401.66 241.67 L402.03 241.71 L402.4 241.75 L402.77 241.79 L403.14 241.82 L403.51 241.86 L403.88 241.9 L404.25 241.94 L404.62 241.97 L404.98 242.01 L405.35 242.05 L405.72 242.09 L406.09 242.12 L406.46 242.16 L406.83 242.2 L407.2 242.24 L407.57 242.27 L407.94 242.31 L408.31 242.35 L408.68 242.39 L409.05 242.42 L409.42 242.46 L409.79 242.5 L410.16 242.54 L410.52 242.57 L410.89 242.61 L411.26 242.65 L411.63 242.69 L412 242.72 L412.37 242.76 L412.74 242.8 L413.11 242.84 L413.48 242.87 L413.85 242.91 L414.22 242.95 L414.59 242.99 L414.96 243.02 L415.33 243.06 L415.69 243.1 L416.06 243.14 L416.43 243.17 L416.8 243.21 L417.17 243.25 L417.54 243.29 L417.91 243.32 L418.28 243.36 L418.65 243.4 L419.02 243.44 L419.39 243.48 L419.76 243.51 L420.13 243.55 L420.5 243.59 L420.87 243.63 L421.23 243.66 L421.6 243.7 L421.97 243.74 L422.34 243.78 L422.71 243.82 L423.08 243.85 L423.45 243.89 L423.82 243.93 L424.19 243.97 L424.56 244 L424.93 244.04 L425.3 244.08 L425.67 244.12 L426.04 244.16 L426.4 244.19 L426.77 244.23 L427.14 244.27 L427.51 244.31 L427.88 244.35 L428.25 244.39 L428.62 244.42 L428.99 244.46 L429.36 244.5 L429.73 244.54 L430.1 244.58 L430.47 244.62 L430.84 244.66 L431.21 244.69 L431.57 244.73 L431.94 244.77 L432.31 244.81 L432.68 244.85 L433.05 244.89 L433.42 244.93 L433.79 244.96 L434.16 245 L434.53 245.04 L434.9 245.08 L435.27 245.12 L435.64 245.16 L436.01 245.2 L436.38 245.24 L436.74 245.28 L437.11 245.32 L437.48 245.36 L437.85 245.4 L438.22 245.44 L438.59 245.47 L438.96 245.51 L439.33 245.55 L439.7 245.59 L440.07 245.63 L440.44 245.67 L440.81 245.71 L441.17 245.75 L441.54 245.79 L441.91 245.83 L442.28 245.87 L442.65 245.91 L443.02 245.95 L443.39 245.99 L443.76 246.03 L444.13 246.07 L444.5 246.11 L444.87 246.16 L445.24 246.2 L445.61 246.24 L445.97 246.28 L446.34 246.32 L446.71 246.36 L447.1 246.4 L447.51 246.45 L447.93 246.49 L448.35 246.54 L448.78 246.59 L449.19 246.64 L449.58 246.68 L449.94 246.72 L450.25 246.76 L450.52 246.79 L450.74 246.81 L450.92 246.83 L451.07 246.85 L451.2 246.86 L451.3 246.87" stroke="#f00" stroke-width="2.6" fill="none" stroke-linejoin="round"/>
<path d="M93.4 273 L93.42 271.7 L93.43 270.36 L93.45 268.98 L93.46 267.55 L93.48 266.08 L93.49 264.57 L93.5 263.02 L93.52 261.43 L93.53 259.8 L93.54 258.13 L93.56 256.42 L93.57 254.67 L93.58 252.89 L93.59 251.07 L93.6 249.21 L93.62 247.28 L93.63 245.26 L93.64 243.18 L93.64 241.03 L93.65 238.81 L93.66 236.55 L93.67 234.23 L93.68 231.88 L93.69 229.48 L93.69 227.06 L93.7 224.61 L93.71 222.15 L93.72 219.67 L93.73 217.19 L93.74 214.71 L93.75 212.24 L93.75 209.77 L93.77 207.33 L93.78 204.91 L93.79 202.53 L93.8 200.18 L93.81 197.82 L93.82 195.41 L93.84 192.95 L93.85 190.45 L93.87 187.92 L93.88 185.36 L93.9 182.8 L93.91 180.23 L93.93 177.67 L93.95 175.13 L93.96 172.61 L93.98 170.13 L94 167.69 L94.02 165.31 L94.04 162.99 L94.06 160.74 L94.09 158.58 L94.11 156.51 L94.13 154.54 L94.16 152.68 L94.18 150.94 L94.21 149.33 L94.24 147.84 L94.27 146.44 L94.31 145.13 L94.35 143.89 L94.39 142.69 L94.43 141.52 L94.48 140.36 L94.53 139.2 L94.58 138 L94.63 136.77 L94.68 135.47 L94.74 134.11 L94.79 132.71 L94.85 131.29 L94.92 129.84 L94.98 128.38 L95.05 126.9 L95.12 125.41 L95.2 123.91 L95.27 122.4 L95.36 120.9 L95.44 119.4 L95.52 117.9 L95.61 116.41 L95.7 114.93 L95.8 113.44 L95.9 111.92 L96.01 110.38 L96.12 108.83 L96.24 107.27 L96.37 105.72 L96.49 104.18 L96.62 102.66 L96.76 101.18 L96.9 99.73 L97.03 98.33 L97.18 96.98 L97.32 95.7 L97.46 94.49 L97.61 93.35 L97.76 92.26 L97.91 91.22 L98.07 90.2 L98.23 89.21 L98.4 88.23 L98.58 87.25 L98.76 86.26 L98.95 85.25 L99.15 84.22 L99.37 83.16 L99.6 82.08 L99.84 81 L100.09 79.93 L100.34 78.87 L100.61 77.84 L100.87 76.84 L101.14 75.89 L101.4 75 L101.66 74.14 L101.93 73.29 L102.19 72.47 L102.47 71.68 L102.75 70.94 L103.05 70.25 L103.36 69.64 L103.69 69.09 L104.05 68.56 L104.43 68.07 L104.83 67.64 L105.25 67.29 L105.69 67.06 L106.15 66.88 L106.63 66.71 L107.14 66.59 L107.68 66.51 L108.24 66.5 L108.84 66.54 L109.47 66.61 L110.13 66.7 L110.82 66.8 L111.52 66.92 L112.23 67.04 L112.96 67.2 L113.7 67.41 L114.46 67.65 L115.25 67.9 L116.06 68.15 L116.9 68.37 L117.77 68.56 L118.68 68.71 L119.64 68.86 L120.64 69 L121.68 69.14 L122.74 69.26 L123.82 69.38 L124.9 69.48 L125.98 69.57 L127.05 69.65 L128.1 69.7 L129.14 69.75 L130.18 69.78 L131.22 69.82 L132.26 69.84 L133.3 69.87 L134.34 69.89 L135.38 69.92 L136.42 69.95 L137.46 69.98 L138.51 70.02 L139.55 70.07 L140.6 70.12 L141.66 70.18 L142.71 70.24 L143.76 70.31 L144.81 70.38 L145.86 70.44 L146.91 70.51 L147.96 70.58 L149 70.65 L150.04 70.72 L151.08 70.79 L152.12 70.86 L153.16 70.93 L154.2 71.01 L155.23 71.09 L156.27 71.17 L157.31 71.26 L158.35 71.36 L159.38 71.46 L160.42 71.57 L161.45 71.7 L162.49 71.82 L163.53 71.96 L164.56 72.1 L165.6 72.24 L166.63 72.39 L167.67 72.54 L168.71 72.69 L169.76 72.85 L170.82 73.02 L171.88 73.19 L172.94 73.37 L173.99 73.56 L175.04 73.74 L176.07 73.92 L177.08 74.1 L178.07 74.28 L179.01 74.45 L179.9 74.62 L180.74 74.77 L181.57 74.93 L182.41 75.09 L183.28 75.26 L184.2 75.44 L185.19 75.62 L186.28 75.82 L187.48 76.04 L188.77 76.27 L190.15 76.52 L191.6 76.78 L193.12 77.04 L194.69 77.32 L196.31 77.6 L197.97 77.89 L199.65 78.19 L201.36 78.48 L203.06 78.78 L204.77 79.08 L206.46 79.37 L208.13 79.66 L209.78 79.95 L211.45 80.24 L213.14 80.54 L214.85 80.84 L216.58 81.14 L218.32 81.44 L220.08 81.75 L221.84 82.06 L223.61 82.36 L225.39 82.67 L227.17 82.98 L228.95 83.29 L230.73 83.6 L232.5 83.91 L234.27 84.21 L236.03 84.52 L237.78 84.82 L239.53 85.12 L241.28 85.42 L243.03 85.72 L244.78 86.02 L246.53 86.32 L248.28 86.62 L250.03 86.92 L251.78 87.22 L253.53 87.51 L255.28 87.81 L257.03 88.11 L258.78 88.41 L260.53 88.7 L262.28 89 L264.03 89.29 L265.78 89.58 L267.53 89.88 L269.29 90.17 L271.06 90.47 L272.83 90.76 L274.61 91.06 L276.38 91.35 L278.16 91.65 L279.93 91.94 L281.7 92.23 L283.46 92.52 L285.21 92.81 L286.96 93.1 L288.69 93.38 L290.4 93.66 L292.1 93.94 L293.78 94.21 L295.43 94.48 L297.07 94.74 L298.68 95 L300.28 95.26 L301.86 95.51 L303.43 95.76 L304.99 96.01 L306.54 96.26 L308.09 96.5 L309.64 96.75 L311.2 96.99 L312.76 97.24 L314.34 97.49 L315.92 97.73 L317.53 97.98 L319.15 98.23 L320.77 98.49 L322.4 98.74 L324.03 98.99 L325.67 99.24 L327.31 99.49 L328.96 99.74 L330.62 100 L332.28 100.25 L333.94 100.5 L335.61 100.75 L337.29 101 L338.97 101.25 L340.66 101.5 L342.35 101.75 L344.06 102 L345.77 102.26 L347.49 102.51 L349.22 102.76 L350.95 103.01 L352.7 103.26 L354.45 103.52 L356.21 103.77 L357.97 104.02 L359.73 104.27 L361.49 104.52 L363.26 104.77 L365.03 105.02 L366.79 105.26 L368.55 105.51 L370.31 105.75 L372.07 105.99 L373.82 106.23 L375.58 106.47 L377.33 106.7 L379.08 106.94 L380.84 107.17 L382.59 107.41 L384.35 107.64 L386.11 107.87 L387.86 108.1 L389.62 108.33 L391.37 108.56 L393.13 108.78 L394.88 109 L396.64 109.23 L398.39 109.45 L400.15 109.67 L401.9 109.88 L403.67 110.1 L405.45 110.32 L407.23 110.54 L409.03 110.75 L410.82 110.97 L412.61 111.18 L414.4 111.39 L416.19 111.6 L417.96 111.81 L419.73 112.02 L421.48 112.22 L423.21 112.42 L424.93 112.61 L426.62 112.8 L428.29 112.99 L429.93 113.17 L431.55 113.35 L433.15 113.52 L434.74 113.7 L436.32 113.87 L437.89 114.03 L439.44 114.2 L440.97 114.36 L442.49 114.52 L444 114.67 L445.49 114.83 L446.96 114.98 L448.42 115.12 L449.87 115.26 L451.3 115.4" stroke="#000" stroke-width="2.6" fill="none" stroke-linejoin="round"/>
</g>
<rect x="93.3" y="64.5" width="358.3" height="215" fill="none" stroke="#000" stroke-width="1"/>
<path d="M128.67 279.5 v-3.6 M128.67 64.5 v3.6 M164.58 279.5 v-3.6 M164.58 64.5 v3.6 M200.5 279.5 v-3.6 M200.5 64.5 v3.6 M236.41 279.5 v-3.6 M236.41 64.5 v3.6 M272.33 279.5 v-3.6 M272.33 64.5 v3.6 M308.25 279.5 v-3.6 M308.25 64.5 v3.6 M344.16 279.5 v-3.6 M344.16 64.5 v3.6 M380.08 279.5 v-3.6 M380.08 64.5 v3.6 M415.99 279.5 v-3.6 M415.99 64.5 v3.6 M93.3 237.26 h3.6 M451.6 237.26 h-3.6 M93.3 195.02 h3.6 M451.6 195.02 h-3.6 M93.3 152.78 h3.6 M451.6 152.78 h-3.6 M93.3 110.54 h3.6 M451.6 110.54 h-3.6 M93.3 68.3 h3.6 M451.6 68.3 h-3.6" stroke="#000" stroke-width="0.45" fill="none"/>
<path d="M93.25 280 L93.4 272.9" stroke="#f00" stroke-width="2.7" fill="none"/>
<path d="M369.5 79.2 H425.2" stroke="#000" stroke-width="2.5"/>
<text transform="translate(316.7,84.3) scale(1.087,1)" text-anchor="start" font-size="20" >V<tspan font-size="16" dy="6.2">cen</tspan></text>
<text transform="translate(271.8,39.2) scale(1.087,1)" text-anchor="middle" font-size="20" >Rotation velocity</text>
<text transform="translate(272.4,340.5) scale(1.087,1)" text-anchor="middle" font-size="20" >Radius (kpc)</text>
<text transform="translate(95.75,307.5) scale(1.087,1)" text-anchor="middle" font-size="20" >0</text>
<text transform="translate(131.67,307.5) scale(1.087,1)" text-anchor="middle" font-size="20" >20</text>
<text transform="translate(167.58,307.5) scale(1.087,1)" text-anchor="middle" font-size="20" >40</text>
<text transform="translate(203.5,307.5) scale(1.087,1)" text-anchor="middle" font-size="20" >60</text>
<text transform="translate(239.41,307.5) scale(1.087,1)" text-anchor="middle" font-size="20" >80</text>
<text transform="translate(275.33,307.5) scale(1.087,1)" text-anchor="middle" font-size="20" >100</text>
<text transform="translate(311.25,307.5) scale(1.087,1)" text-anchor="middle" font-size="20" >120</text>
<text transform="translate(347.16,307.5) scale(1.087,1)" text-anchor="middle" font-size="20" >140</text>
<text transform="translate(383.08,307.5) scale(1.087,1)" text-anchor="middle" font-size="20" >160</text>
<text transform="translate(418.99,307.5) scale(1.087,1)" text-anchor="middle" font-size="20" >180</text>
<text transform="translate(454.91,307.5) scale(1.087,1)" text-anchor="middle" font-size="20" >200</text>
<text transform="translate(79.6,286.3) scale(1.087,1)" text-anchor="end" font-size="20" >0</text>
<text transform="translate(79.6,244.06) scale(1.087,1)" text-anchor="end" font-size="20" >0.2</text>
<text transform="translate(79.6,201.82) scale(1.087,1)" text-anchor="end" font-size="20" >0.4</text>
<text transform="translate(79.6,159.58) scale(1.087,1)" text-anchor="end" font-size="20" >0.6</text>
<text transform="translate(79.6,117.34) scale(1.087,1)" text-anchor="end" font-size="20" >0.8</text>
<text transform="translate(79.6,75.1) scale(1.087,1)" text-anchor="end" font-size="20" >1</text>
<text transform="translate(22.7,172) rotate(-90) scale(1.087,1)" text-anchor="middle" font-size="20">V / V<tspan font-size="16" dy="6.2">d</tspan></text>
<g clip-path="url(#cr)">
<path d="M618.7 218.26 L620.56 216.79 L620.56 217.71 L618.7 218.81Z M620.56 216.79 L622.41 215.35 L622.41 216.63 L620.56 217.71Z M622.41 215.35 L624.27 213.94 L624.27 215.59 L622.41 216.63Z M624.27 213.94 L626.13 212.55 L626.13 214.59 L624.27 215.59Z M626.13 212.55 L627.99 211.19 L627.99 213.61 L626.13 214.59Z M627.99 211.19 L629.84 209.85 L629.84 212.66 L627.99 213.61Z M629.84 209.85 L631.7 208.54 L631.7 211.74 L629.84 212.66Z M631.7 208.54 L633.56 207.25 L633.56 210.85 L631.7 211.74Z M633.56 207.25 L635.42 205.99 L635.42 209.98 L633.56 210.85Z M635.42 205.99 L637.27 204.75 L637.27 209.15 L635.42 209.98Z M637.27 204.75 L639.13 203.53 L639.13 208.34 L637.27 209.15Z M639.13 203.53 L640.99 202.34 L640.99 207.56 L639.13 208.34Z M640.99 202.34 L642.85 201.17 L642.85 206.8 L640.99 207.56Z M642.85 201.17 L644.7 200.01 L644.7 206.07 L642.85 206.8Z M644.7 200.01 L646.56 198.88 L646.56 205.37 L644.7 206.07Z M646.56 198.88 L648.42 197.78 L648.42 204.69 L646.56 205.37Z M648.42 197.78 L650.28 196.69 L650.28 204.03 L648.42 204.69Z M650.28 196.69 L652.13 195.62 L652.13 203.4 L650.28 204.03Z M652.13 195.62 L653.99 194.57 L653.99 202.79 L652.13 203.4Z M653.99 194.57 L655.85 193.54 L655.85 202.2 L653.99 202.79Z M655.85 193.54 L657.71 192.52 L657.71 201.63 L655.85 202.2Z M657.71 192.52 L659.56 191.53 L659.56 201.08 L657.71 201.63Z M659.56 191.53 L661.42 190.55 L661.42 200.56 L659.56 201.08Z M661.42 190.55 L663.28 189.59 L663.28 200.05 L661.42 200.56Z M663.28 189.59 L665.14 188.65 L665.14 199.57 L663.28 200.05Z M665.14 188.65 L666.99 187.72 L666.99 199.1 L665.14 199.57Z M666.99 187.72 L668.85 186.81 L668.85 198.65 L666.99 199.1Z M668.85 186.81 L670.71 185.91 L670.71 198.22 L668.85 198.65Z M670.71 185.91 L672.57 185.03 L672.57 197.81 L670.71 198.22Z M672.57 185.03 L674.42 184.16 L674.42 197.41 L672.57 197.81Z M674.42 184.16 L676.28 183.3 L676.28 197.03 L674.42 197.41Z M676.28 183.3 L678.14 182.46 L678.14 196.66 L676.28 197.03Z M678.14 182.46 L680 181.63 L680 196.31 L678.14 196.66Z M680 181.63 L681.85 180.82 L681.85 195.98 L680 196.31Z M681.85 180.82 L683.71 180.01 L683.71 195.65 L681.85 195.98Z M683.71 180.01 L685.57 179.22 L685.57 195.34 L683.71 195.65Z M685.57 179.22 L687.43 178.44 L687.43 195.05 L685.57 195.34Z M687.43 178.44 L689.28 177.67 L689.28 194.77 L687.43 195.05Z M689.28 177.67 L691.14 176.9 L691.14 194.49 L689.28 194.77Z M691.14 176.9 L693 176.15 L693 194.23 L691.14 194.49Z M693 176.15 L694.86 175.41 L694.86 193.98 L693 194.23Z M694.86 175.41 L696.71 174.67 L696.71 193.74 L694.86 193.98Z M696.71 174.67 L698.57 173.95 L698.57 193.51 L696.71 193.74Z M698.57 173.95 L700.43 173.23 L700.43 193.29 L698.57 193.51Z M700.43 173.23 L702.29 172.52 L702.29 193.08 L700.43 193.29Z M702.29 172.52 L704.14 171.81 L704.14 192.88 L702.29 193.08Z M704.14 171.81 L706 171.12 L706 192.68 L704.14 192.88Z M706 171.12 L707.86 170.42 L707.86 192.49 L706 192.68Z M707.86 170.42 L709.72 169.74 L709.72 192.3 L707.86 192.49Z M709.72 169.74 L711.57 169.06 L711.57 192.13 L709.72 192.3Z M711.57 169.06 L713.43 168.38 L713.43 191.95 L711.57 192.13Z M713.43 168.38 L715.29 167.71 L715.29 191.79 L713.43 191.95Z M715.29 167.71 L717.15 167.04 L717.15 191.62 L715.29 191.79Z M717.15 167.04 L719 166.38 L719 191.47 L717.15 191.62Z M719 166.38 L720.86 165.72 L720.86 191.32 L719 191.47Z M720.86 165.72 L722.72 165.07 L722.72 191.17 L720.86 191.32Z M722.72 165.07 L724.58 164.42 L724.58 191.03 L722.72 191.17Z M724.58 164.42 L726.43 163.78 L726.43 190.89 L724.58 191.03Z M726.43 163.78 L728.29 163.14 L728.29 190.75 L726.43 190.89Z M728.29 163.14 L730.15 162.51 L730.15 190.63 L728.29 190.75Z M730.15 162.51 L732.01 161.88 L732.01 190.5 L730.15 190.63Z M732.01 161.88 L733.86 161.25 L733.86 190.38 L732.01 190.5Z M733.86 161.25 L735.72 160.63 L735.72 190.26 L733.86 190.38Z M735.72 160.63 L737.58 160.01 L737.58 190.15 L735.72 190.26Z M737.58 160.01 L739.44 159.39 L739.44 190.04 L737.58 190.15Z M739.44 159.39 L741.29 158.78 L741.29 189.93 L739.44 190.04Z M741.29 158.78 L743.15 158.17 L743.15 189.83 L741.29 189.93Z M743.15 158.17 L745.01 157.57 L745.01 189.73 L743.15 189.83Z M745.01 157.57 L746.87 156.97 L746.87 189.64 L745.01 189.73Z M746.87 156.97 L748.72 156.37 L748.72 189.54 L746.87 189.64Z M748.72 156.37 L750.58 155.77 L750.58 189.45 L748.72 189.54Z M750.58 155.77 L752.44 155.18 L752.44 189.36 L750.58 189.45Z M752.44 155.18 L754.3 154.59 L754.3 189.28 L752.44 189.36Z M754.3 154.59 L756.15 154 L756.15 189.2 L754.3 189.28Z M756.15 154 L758.01 153.42 L758.01 189.12 L756.15 189.2Z M758.01 153.42 L759.87 152.84 L759.87 189.04 L758.01 189.12Z M759.87 152.84 L761.73 152.26 L761.73 188.96 L759.87 189.04Z M761.73 152.26 L763.58 151.68 L763.58 188.89 L761.73 188.96Z M763.58 151.68 L765.44 151.11 L765.44 188.81 L763.58 188.89Z M765.44 151.11 L767.3 150.54 L767.3 188.74 L765.44 188.81Z M767.3 150.54 L769.16 149.97 L769.16 188.67 L767.3 188.74Z M769.16 149.97 L771.01 149.4 L771.01 188.61 L769.16 188.67Z M771.01 149.4 L772.87 148.83 L772.87 188.54 L771.01 188.61Z M772.87 148.83 L774.73 148.27 L774.73 188.47 L772.87 188.54Z M774.73 148.27 L776.59 147.71 L776.59 188.41 L774.73 188.47Z M776.59 147.71 L778.44 147.15 L778.44 188.35 L776.59 188.41Z M778.44 147.15 L780.3 146.59 L780.3 188.28 L778.44 188.35Z M780.3 146.59 L782.16 146.03 L782.16 188.22 L780.3 188.28Z M782.16 146.03 L784.02 145.47 L784.02 188.16 L782.16 188.22Z M784.02 145.47 L785.87 144.92 L785.87 188.1 L784.02 188.16Z M785.87 144.92 L787.73 144.36 L787.73 188.03 L785.87 188.1Z M787.73 144.36 L789.59 143.81 L789.59 187.97 L787.73 188.03Z M789.59 143.81 L791.45 143.25 L791.45 187.91 L789.59 187.97Z M791.45 143.25 L793.3 142.7 L793.3 187.85 L791.45 187.91Z M793.3 142.7 L795.16 142.15 L795.16 187.79 L793.3 187.85Z M795.16 142.15 L797.02 141.6 L797.02 187.73 L795.16 187.79Z M797.02 141.6 L798.88 141.05 L798.88 187.67 L797.02 187.73Z M798.88 141.05 L800.73 140.49 L800.73 187.61 L798.88 187.67Z M800.73 140.49 L802.59 139.94 L802.59 187.55 L800.73 187.61Z M802.59 139.94 L804.45 139.39 L804.45 187.49 L802.59 187.55Z M804.45 139.39 L806.31 138.83 L806.31 187.43 L804.45 187.49Z M806.31 138.83 L808.16 138.28 L808.16 187.37 L806.31 187.43Z M808.16 138.28 L810.02 137.72 L810.02 187.31 L808.16 187.37Z M810.02 137.72 L811.88 137.16 L811.88 187.25 L810.02 187.31Z M811.88 137.16 L813.74 136.61 L813.74 187.19 L811.88 187.25Z M813.74 136.61 L815.59 136.04 L815.59 187.14 L813.74 187.19Z M815.59 136.04 L817.45 135.48 L817.45 187.08 L815.59 187.14Z M817.45 135.48 L819.31 134.91 L819.31 187.02 L817.45 187.08Z M819.31 134.91 L821.17 134.35 L821.17 186.97 L819.31 187.02Z M821.17 134.35 L823.02 133.78 L823.02 186.91 L821.17 186.97Z M823.02 133.78 L824.88 133.2 L824.88 186.85 L823.02 186.91Z M824.88 133.2 L826.74 132.63 L826.74 186.8 L824.88 186.85Z M826.74 132.63 L828.6 132.05 L828.6 186.75 L826.74 186.8Z M828.6 132.05 L830.45 131.46 L830.45 186.69 L828.6 186.75Z M830.45 131.46 L832.31 130.88 L832.31 186.64 L830.45 186.69Z M832.31 130.88 L834.17 130.29 L834.17 186.58 L832.31 186.64Z M834.17 130.29 L836.03 129.69 L836.03 186.53 L834.17 186.58Z M836.03 129.69 L837.88 129.09 L837.88 186.48 L836.03 186.53Z M837.88 129.09 L839.74 128.49 L839.74 186.43 L837.88 186.48Z M839.74 128.49 L841.6 127.88 L841.6 186.38 L839.74 186.43Z M841.6 127.88 L843.46 127.27 L843.46 186.33 L841.6 186.38Z M843.46 127.27 L845.31 126.65 L845.31 186.28 L843.46 186.33Z M845.31 126.65 L847.17 126.03 L847.17 186.23 L845.31 186.28Z M847.17 126.03 L849.03 125.4 L849.03 186.18 L847.17 186.23Z M849.03 125.4 L850.89 124.76 L850.89 186.13 L849.03 186.18Z M850.89 124.76 L852.74 124.12 L852.74 186.09 L850.89 186.13Z M852.74 124.12 L854.6 123.48 L854.6 186.04 L852.74 186.09Z M854.6 123.48 L856.46 122.83 L856.46 186 L854.6 186.04Z M856.46 122.83 L858.32 122.17 L858.32 185.95 L856.46 186Z M858.32 122.17 L860.17 121.5 L860.17 185.91 L858.32 185.95Z M860.17 121.5 L862.03 120.83 L862.03 185.87 L860.17 185.91Z M862.03 120.83 L863.89 120.15 L863.89 185.82 L862.03 185.87Z M863.89 120.15 L865.75 119.46 L865.75 185.78 L863.89 185.82Z M865.75 119.46 L867.6 118.77 L867.6 185.74 L865.75 185.78Z M867.6 118.77 L869.46 118.07 L869.46 185.7 L867.6 185.74Z M869.46 118.07 L871.32 117.36 L871.32 185.66 L869.46 185.7Z M871.32 117.36 L873.18 116.64 L873.18 185.62 L871.32 185.66Z M873.18 116.64 L875.03 115.92 L875.03 185.59 L873.18 185.62Z M875.03 115.92 L876.89 115.19 L876.89 185.55 L875.03 185.59Z M876.89 115.19 L878.75 114.44 L878.75 185.52 L876.89 185.55Z M878.75 114.44 L880.61 113.69 L880.61 185.48 L878.75 185.52Z M880.61 113.69 L882.46 112.93 L882.46 185.45 L880.61 185.48Z M882.46 112.93 L884.32 112.16 L884.32 185.41 L882.46 185.45Z M884.32 112.16 L886.18 111.38 L886.18 185.38 L884.32 185.41Z M886.18 111.38 L888.04 110.6 L888.04 185.35 L886.18 185.38Z M888.04 110.6 L889.89 109.8 L889.89 185.32 L888.04 185.35Z M889.89 109.8 L891.75 108.98 L891.75 185.29 L889.89 185.32Z M891.75 108.98 L893.61 108.16 L893.61 185.27 L891.75 185.29Z M893.61 108.16 L895.47 107.33 L895.47 185.24 L893.61 185.27Z M895.47 107.33 L897.32 106.48 L897.32 185.22 L895.47 185.24Z M897.32 106.48 L899.18 105.62 L899.18 185.19 L897.32 185.22Z M899.18 105.62 L901.04 104.75 L901.04 185.17 L899.18 185.19Z M901.04 104.75 L902.9 103.86 L902.9 185.15 L901.04 185.17Z M902.9 103.86 L904.75 102.96 L904.75 185.13 L902.9 185.15Z M904.75 102.96 L906.61 102.04 L906.61 185.11 L904.75 185.13Z M906.61 102.04 L908.47 101.11 L908.47 185.09 L906.61 185.11Z M908.47 101.11 L910.33 100.16 L910.33 185.07 L908.47 185.09Z M910.33 100.16 L912.18 99.19 L912.18 185.05 L910.33 185.07Z M912.18 99.19 L914.04 98.21 L914.04 185.04 L912.18 185.05Z M914.04 98.21 L915.9 97.21 L915.9 185.03 L914.04 185.04Z M915.9 97.21 L917.76 96.19 L917.76 185.01 L915.9 185.03Z M917.76 96.19 L919.61 95.16 L919.61 185 L917.76 185.01Z M919.61 95.16 L921.47 94.1 L921.47 184.99 L919.61 185Z M921.47 94.1 L923.33 93.03 L923.33 184.98 L921.47 184.99Z M923.33 93.03 L925.19 91.93 L925.19 184.98 L923.33 184.98Z M925.19 91.93 L927.04 90.82 L927.04 184.97 L925.19 184.98Z M927.04 90.82 L928.9 89.68 L928.9 184.97 L927.04 184.97Z M928.9 89.68 L930.76 88.53 L930.76 184.96 L928.9 184.97Z M930.76 88.53 L932.62 87.35 L932.62 184.96 L930.76 184.96Z M932.62 87.35 L934.47 86.15 L934.47 184.96 L932.62 184.96Z M934.47 86.15 L936.33 84.92 L936.33 184.96 L934.47 184.96Z M936.33 84.92 L938.19 83.67 L938.19 184.96 L936.33 184.96Z M938.19 83.67 L940.05 82.4 L940.05 184.97 L938.19 184.96Z M940.05 82.4 L941.9 81.11 L941.9 184.97 L940.05 184.97Z M941.9 81.11 L942 81.04 L942 184.97 L941.9 184.97Z" fill="rgb(166,211,255)" stroke="none"/>
<path d="M608.7 228 L610.1 226.62 L611.5 225.27 L612.9 223.95 L614.3 222.66 L615.7 221.39 M627.7 211.4 L629.1 210.38 L630.5 209.39 L631.9 208.4 L633.3 207.43 L634.7 206.47 M646.7 198.8 L648.1 197.97 L649.5 197.14 L650.9 196.33 L652.3 195.52 L653.7 194.73 M666.1 188.16 L667.5 187.47 L668.9 186.78 L670.3 186.11 L671.7 185.44 L673.1 184.78 M685.9 179.08 L687.3 178.49 L688.7 177.91 L690.1 177.33 L691.5 176.76 L692.9 176.19 M705.4 171.34 L706.8 170.82 L708.2 170.3 L709.6 169.78 L711 169.27 L712.4 168.76 M724.9 164.31 L726.3 163.83 L727.7 163.35 L729.1 162.87 L730.5 162.39 L731.9 161.91 M743.9 157.93 L745.3 157.47 L746.7 157.02 L748.1 156.57 L749.5 156.12 L750.9 155.67 M763.7 151.65 L765.1 151.21 L766.5 150.78 L767.9 150.35 L769.3 149.92 L770.7 149.49 M783.3 145.69 L784.7 145.27 L786.1 144.85 L787.5 144.43 L788.9 144.01 L790.3 143.6 M802.2 140.06 L803.6 139.64 L805 139.22 L806.4 138.81 L807.8 138.39 L809.2 137.97 M821.5 134.24 L822.9 133.81 L824.3 133.38 L825.7 132.95 L827.1 132.51 L828.5 132.08 M840.7 128.17 L842.1 127.72 L843.5 127.25 L844.9 126.79 L846.3 126.32 L847.7 125.85 M860.1 121.53 L861.5 121.02 L862.9 120.51 L864.3 120 L865.7 119.48 L867.1 118.96 M879.2 114.26 L880.6 113.7 L882 113.12 L883.4 112.55 L884.8 111.96 L886.2 111.38 M898.5 105.94 L899.9 105.29 L901.3 104.62 L902.7 103.95 L904.1 103.28 L905.5 102.59 M917.4 96.39 L918.8 95.61 L920.2 94.83 L921.6 94.03 L923 93.22 L924.4 92.4 M936 85.14 L937.2 84.34 L938.4 83.53 L939.6 82.71 L940.8 81.88 L942 81.04" stroke="#00f" stroke-width="2.1" fill="none"/>
<path d="M608.7 228.8 L610.1 227.42 L611.5 226.07 L612.9 224.75 L614.3 223.46 L615.7 222.19 M627.7 213.76 L629.1 213.03 L630.5 212.33 L631.9 211.64 L633.3 210.97 L634.7 210.31 M647.2 205.13 L648.6 204.62 L650 204.13 L651.4 203.65 L652.8 203.18 L654.2 202.72 M666.8 199.15 L668.2 198.81 L669.6 198.47 L671 198.15 L672.4 197.84 L673.8 197.54 M686.6 195.18 L688 194.96 L689.4 194.75 L690.8 194.54 L692.2 194.34 L693.6 194.15 M706.3 192.65 L707.7 192.5 L709.1 192.37 L710.5 192.23 L711.9 192.1 L713.3 191.97 M725.7 190.94 L727.1 190.84 L728.5 190.74 L729.9 190.64 L731.3 190.55 L732.7 190.46 M745 189.73 L746.4 189.66 L747.8 189.59 L749.2 189.52 L750.6 189.45 L752 189.38 M764.3 188.86 L765.7 188.8 L767.1 188.75 L768.5 188.7 L769.9 188.65 L771.3 188.6 M783 188.19 L784.4 188.14 L785.8 188.1 L787.2 188.05 L788.6 188.01 L790 187.96 M802.2 187.56 L803.6 187.52 L805 187.47 L806.4 187.43 L807.8 187.38 L809.2 187.34 M821.5 186.96 L822.9 186.91 L824.3 186.87 L825.7 186.83 L827.1 186.79 L828.5 186.75 M840.7 186.4 L842.1 186.36 L843.5 186.33 L844.9 186.29 L846.3 186.25 L847.7 186.22 M860.1 185.91 L861.5 185.88 L862.9 185.85 L864.3 185.81 L865.7 185.78 L867.1 185.75 M879.2 185.51 L880.6 185.48 L882 185.46 L883.4 185.43 L884.8 185.41 L886.2 185.38 M898.5 185.2 L899.9 185.18 L901.3 185.17 L902.7 185.15 L904.1 185.13 L905.5 185.12 M917.4 185.01 L918.8 185.01 L920.2 185 L921.6 184.99 L923 184.98 L924.4 184.98 M936 184.96 L937.2 184.96 L938.4 184.96 L939.6 184.97 L940.8 184.97 L942 184.97" stroke="#00f" stroke-width="2.1" fill="none"/>
<path d="M570.7 279.5 L570.95 279.11 L571.21 278.71 L571.46 278.32 L571.72 277.92 L571.97 277.53 L572.22 277.13 L572.48 276.73 L572.74 276.34 L572.99 275.94 L573.25 275.55 L573.5 275.15 L573.76 274.75 L574.02 274.36 L574.27 273.96 L574.53 273.56 L574.79 273.17 L575.04 272.77 L575.3 272.37 L575.56 271.97 L575.82 271.57 L576.08 271.17 L576.34 270.77 L576.6 270.37 L576.87 269.97 L577.13 269.57 L577.39 269.17 L577.65 268.77 L577.91 268.37 L578.16 267.98 L578.42 267.58 L578.68 267.19 L578.93 266.79 L579.19 266.4 L579.44 266.01 L579.7 265.62 L579.95 265.23 L580.2 264.84 L580.46 264.45 L580.71 264.06 L580.96 263.67 L581.21 263.29 L581.47 262.9 L581.72 262.51 L581.97 262.13 L582.22 261.74 L582.47 261.35 L582.73 260.96 L582.98 260.57 L583.22 260.19 L583.47 259.81 L583.71 259.43 L583.95 259.05 L584.19 258.67 L584.43 258.29 L584.68 257.91 L584.92 257.52 L585.17 257.14 L585.43 256.75 L585.69 256.35 L585.95 255.95 L586.23 255.55 L586.51 255.13 L586.8 254.71 L587.1 254.28 L587.41 253.84 L587.73 253.4 L588.06 252.94 L588.39 252.48 L588.73 252.01 L589.08 251.54 L589.43 251.07 L589.78 250.6 L590.13 250.13 L590.49 249.66 L590.84 249.19 L591.2 248.72 L591.55 248.26 L591.9 247.81 L592.25 247.36 L592.6 246.92 L592.93 246.49 L593.26 246.06 L593.6 245.65 L593.93 245.24 L594.25 244.83 L594.58 244.42 L594.91 244.03 L595.23 243.63 L595.56 243.23 L595.88 242.84 L596.21 242.45 L596.53 242.06 L596.86 241.67 L597.18 241.29 L597.51 240.9 L597.84 240.51 L598.17 240.12 L598.5 239.73 L598.83 239.33 L599.16 238.93 L599.5 238.52 L599.84 238.12 L600.18 237.71 L600.52 237.3 L600.86 236.89 L601.2 236.48 L601.54 236.08 L601.88 235.67 L602.22 235.28 L602.55 234.88 L602.88 234.5 L603.21 234.12 L603.54 233.75 L603.86 233.39 L604.17 233.05 L604.48 232.71 L604.78 232.39 L605.08 232.07 L605.38 231.76 L605.67 231.46 L605.95 231.16 L606.24 230.87 L606.52 230.58 L606.81 230.29 L607.09 230 L607.37 229.72 L607.66 229.44 L607.94 229.15 L608.23 228.86 L608.53 228.57 L608.82 228.28 L609.11 227.99 L609.4 227.7 L609.7 227.41 L609.99 227.13 L610.28 226.84 L610.58 226.56 L610.87 226.27 L611.17 225.99 L611.46 225.71 L611.76 225.43 L612.05 225.15 L612.35 224.87 L612.64 224.59 L612.94 224.31 L613.24 224.04 L613.53 223.76 L613.83 223.49 L614.13 223.22 L614.43 222.94 L614.73 222.67 L615.02 222.4 L615.32 222.13 L615.62 221.86 L615.92 221.6 L616.22 221.33 L616.52 221.06 L616.82 220.8 L617.12 220.53 L617.42 220.27 L617.73 220.01 L618.03 219.75 L618.33 219.49 L618.63 219.23 L618.93 218.97 L619.24 218.71 L619.54 218.46 L619.84 218.2 L620.15 217.95 L620.45 217.69 L620.75 217.44 L621.06 217.19 L621.36 216.94 L621.67 216.69 L621.97 216.44 L622.28 216.19 L622.59 215.94 L622.89 215.7 L623.2 215.45 L623.5 215.21 L623.81 214.96 L624.12 214.72 L624.43 214.48 L624.73 214.24 L625.04 214 L625.35 213.76 L625.66 213.52 L625.97 213.29 L626.28 213.05 L626.59 212.82 L626.9 212.58 L627.21 212.35 L627.52 212.12 L627.83 211.88 L628.14 211.65 L628.45 211.43 L628.76 211.2 L629.07 210.97 L629.39 210.74 L629.7 210.52 L630.01 210.29 L630.32 210.07 L630.64 209.84 L630.95 209.62 L631.26 209.4 L631.58 209.18 L631.89 208.96 L632.21 208.74 L632.52 208.53 L632.83 208.31 L633.15 208.09 L633.47 207.88 L633.78 207.67 L634.1 207.45 L634.41 207.24 L634.73 207.03 L635.05 206.82 L635.36 206.61 L635.68 206.4 L636 206.19 L636.31 205.99 L636.63 205.78 L636.95 205.58 L637.27 205.37 L637.59 205.17 L637.91 204.97 L638.22 204.76 L638.54 204.56 L638.86 204.36 L639.18 204.17 L639.5 203.97 L639.82 203.77 L640.14 203.57 L640.46 203.38 L640.78 203.19 L641.1 202.99 L641.43 202.8 L641.75 202.61 L642.07 202.42 L642.39 202.23 L642.71 202.04 L643.04 201.85 L643.36 201.66 L643.68 201.47 L644 201.29 L644.33 201.1 L644.65 200.92 L644.97 200.74 L645.3 200.55 L645.62 200.37 L645.95 200.19 L646.27 200.01 L646.59 199.83 L646.92 199.65 L647.24 199.48 L647.57 199.3 L647.89 199.12 L648.22 198.95 L648.55 198.77 L648.87 198.6 L649.2 198.43 L649.52 198.26 L649.85 198.09 L650.18 197.91 L650.5 197.75 L650.83 197.58 L651.16 197.41 L651.48 197.24 L651.81 197.08 L652.14 196.91 L652.47 196.75 L652.8 196.58 L653.12 196.42 L653.45 196.26 L653.78 196.09 L654.11 195.93 L654.44 195.77 L654.77 195.61 L655.1 195.45 L655.43 195.3 L655.76 195.14 L656.09 194.98 L656.42 194.83 L656.75 194.67 L657.08 194.52 L657.41 194.36 L657.74 194.21 L658.07 194.06 L658.4 193.91 L658.73 193.76 L659.06 193.61 L659.39 193.46 L659.72 193.31 L660.05 193.16 L660.38 193.01 L660.72 192.87 L661.05 192.72 L661.38 192.58 L661.71 192.43 L662.05 192.29 L662.38 192.15 L662.71 192 L663.04 191.86 L663.38 191.72 L663.71 191.58 L664.04 191.44 L664.38 191.3 L664.71 191.17 L665.04 191.03 L665.38 190.89 L665.71 190.76 L666.04 190.62 L666.38 190.49 L666.71 190.35 L667.05 190.22 L667.38 190.09 L667.71 189.95 L668.05 189.82 L668.38 189.69 L668.72 189.56 L669.05 189.43 L669.39 189.3 L669.72 189.17 L670.06 189.05 L670.39 188.92 L670.73 188.79 L671.07 188.67 L671.4 188.54 L671.74 188.42 L672.07 188.29 L672.41 188.17 L672.75 188.05 L673.08 187.93 L673.42 187.81 L673.76 187.68 L674.09 187.56 L674.43 187.44 L674.77 187.33 L675.1 187.21 L675.44 187.09 L675.78 186.97 L676.11 186.86 L676.45 186.74 L676.79 186.62 L677.13 186.51 L677.46 186.39 L677.8 186.28 L678.14 186.17 L678.48 186.05 L678.81 185.94 L679.15 185.83 L679.49 185.72 L679.83 185.61 L680.17 185.5 L680.5 185.39 L680.84 185.28 L681.18 185.17 L681.52 185.07 L681.86 184.96 L682.2 184.85 L682.54 184.74 L682.88 184.64 L683.21 184.53 L683.55 184.43 L683.89 184.32 L684.23 184.22 L684.57 184.12 L684.91 184.01 L685.25 183.91 L685.59 183.81 L685.93 183.71 L686.27 183.61 L686.61 183.51 L686.95 183.41 L687.29 183.31 L687.63 183.21 L687.97 183.11 L688.31 183.01 L688.65 182.92 L688.99 182.82 L689.33 182.72 L689.67 182.63 L690.01 182.53 L690.35 182.43 L690.69 182.34 L691.03 182.25 L691.37 182.15 L691.71 182.06 L692.05 181.96 L692.39 181.87 L692.73 181.78 L693.07 181.69 L693.41 181.6 L693.75 181.5 L694.1 181.41 L694.44 181.32 L694.78 181.23 L695.12 181.14 L695.46 181.05 L695.8 180.96 L696.14 180.88 L696.48 180.79 L696.83 180.7 L697.17 180.61 L697.51 180.53 L697.85 180.44 L698.19 180.35 L698.53 180.27 L698.87 180.18 L699.22 180.09 L699.56 180.01 L699.9 179.93 L700.24 179.84 L700.58 179.76 L700.92 179.67 L701.27 179.59 L701.61 179.51 L701.95 179.42 L702.29 179.34 L702.63 179.26 L702.98 179.18 L703.32 179.09 L703.66 179.01 L704 178.93 L704.34 178.85 L704.69 178.77 L705.03 178.69 L705.37 178.61 L705.71 178.53 L706.06 178.45 L706.4 178.37 L706.74 178.29 L707.08 178.21 L707.43 178.14 L707.77 178.06 L708.11 177.98 L708.45 177.9 L708.8 177.82 L709.14 177.75 L709.48 177.67 L709.82 177.59 L710.17 177.51 L710.51 177.44 L710.85 177.36 L711.19 177.29 L711.54 177.21 L711.88 177.13 L712.22 177.06 L712.56 176.98 L712.91 176.91 L713.25 176.83 L713.59 176.76 L713.94 176.68 L714.28 176.61 L714.62 176.53 L714.96 176.46 L715.31 176.39 L715.65 176.31 L715.99 176.24 L716.34 176.16 L716.68 176.09 L717.02 176.02 L717.37 175.95 L717.71 175.87 L718.05 175.8 L718.39 175.73 L718.74 175.66 L719.08 175.58 L719.42 175.51 L719.77 175.44 L720.11 175.37 L720.45 175.3 L720.8 175.23 L721.14 175.15 L721.48 175.08 L721.83 175.01 L722.17 174.94 L722.51 174.87 L722.86 174.8 L723.2 174.73 L723.54 174.66 L723.89 174.59 L724.23 174.52 L724.57 174.46 L724.92 174.39 L725.26 174.32 L725.6 174.25 L725.95 174.18 L726.29 174.11 L726.63 174.04 L726.98 173.98 L727.32 173.91 L727.66 173.84 L728.01 173.77 L728.35 173.71 L728.7 173.64 L729.04 173.57 L729.38 173.5 L729.73 173.44 L730.07 173.37 L730.41 173.31 L730.76 173.24 L731.1 173.17 L731.44 173.11 L731.79 173.04 L732.13 172.98 L732.48 172.91 L732.82 172.85 L733.16 172.78 L733.51 172.72 L733.85 172.65 L734.2 172.59 L734.54 172.52 L734.88 172.46 L735.23 172.4 L735.57 172.33 L735.91 172.27 L736.26 172.2 L736.6 172.14 L736.95 172.08 L737.29 172.02 L737.63 171.95 L737.98 171.89 L738.32 171.83 L738.67 171.76 L739.01 171.7 L739.35 171.64 L739.7 171.58 L740.04 171.52 L740.39 171.46 L740.73 171.39 L741.08 171.33 L741.42 171.27 L741.76 171.21 L742.11 171.15 L742.45 171.09 L742.8 171.03 L743.14 170.97 L743.49 170.91 L743.83 170.85 L744.17 170.79 L744.52 170.73 L744.86 170.67 L745.21 170.61 L745.55 170.55 L745.9 170.49 L746.24 170.43 L746.58 170.38 L746.93 170.32 L747.27 170.26 L747.62 170.2 L747.96 170.14 L748.31 170.08 L748.65 170.03 L748.99 169.97 L749.34 169.91 L749.68 169.85 L750.03 169.8 L750.37 169.74 L750.72 169.68 L751.06 169.63 L751.41 169.57 L751.75 169.51 L752.1 169.46 L752.44 169.4 L752.78 169.35 L753.13 169.29 L753.47 169.23 L753.82 169.18 L754.16 169.12 L754.51 169.07 L754.85 169.01 L755.2 168.96 L755.54 168.9 L755.89 168.85 L756.23 168.79 L756.58 168.74 L756.92 168.69 L757.27 168.63 L757.61 168.58 L757.95 168.52 L758.3 168.47 L758.64 168.42 L758.99 168.36 L759.33 168.31 L759.68 168.26 L760.02 168.2 L760.37 168.15 L760.71 168.1 L761.06 168.05 L761.4 167.99 L761.75 167.94 L762.09 167.89 L762.44 167.84 L762.78 167.79 L763.13 167.73 L763.47 167.68 L763.82 167.63 L764.16 167.58 L764.51 167.53 L764.85 167.48 L765.2 167.43 L765.54 167.38 L765.89 167.33 L766.23 167.28 L766.58 167.22 L766.92 167.17 L767.27 167.12 L767.61 167.07 L767.96 167.02 L768.3 166.98 L768.65 166.93 L768.99 166.88 L769.34 166.83 L769.68 166.78 L770.03 166.73 L770.37 166.68 L770.72 166.63 L771.06 166.58 L771.41 166.53 L771.75 166.49 L772.1 166.44 L772.44 166.39 L772.79 166.34 L773.13 166.29 L773.48 166.25 L773.83 166.2 L774.17 166.15 L774.52 166.1 L774.86 166.06 L775.21 166.01 L775.55 165.96 L775.9 165.92 L776.24 165.87 L776.59 165.82 L776.93 165.78 L777.28 165.73 L777.62 165.68 L777.97 165.64 L778.31 165.59 L778.66 165.55 L779 165.5 L779.35 165.46 L779.7 165.41 L780.04 165.36 L780.39 165.32 L780.73 165.27 L781.08 165.23 L781.42 165.18 L781.77 165.14 L782.11 165.1 L782.46 165.05 L782.8 165.01 L783.15 164.96 L783.49 164.92 L783.84 164.87 L784.19 164.83 L784.53 164.79 L784.88 164.74 L785.22 164.7 L785.57 164.66 L785.91 164.61 L786.26 164.57 L786.6 164.53 L786.95 164.48 L787.29 164.44 L787.64 164.4 L787.99 164.36 L788.33 164.31 L788.68 164.27 L789.02 164.23 L789.37 164.19 L789.71 164.14 L790.06 164.1 L790.41 164.06 L790.75 164.02 L791.1 163.98 L791.44 163.94 L791.79 163.9 L792.13 163.85 L792.48 163.81 L792.82 163.77 L793.17 163.73 L793.52 163.69 L793.86 163.65 L794.21 163.61 L794.55 163.57 L794.9 163.53 L795.24 163.49 L795.59 163.45 L795.94 163.41 L796.28 163.37 L796.63 163.33 L796.97 163.29 L797.32 163.25 L797.66 163.21 L798.01 163.17 L798.36 163.13 L798.7 163.09 L799.05 163.05 L799.39 163.01 L799.74 162.97 L800.08 162.93 L800.43 162.9 L800.78 162.86 L801.12 162.82 L801.47 162.78 L801.81 162.74 L802.16 162.7 L802.5 162.67 L802.85 162.63 L803.2 162.59 L803.54 162.55 L803.89 162.51 L804.23 162.48 L804.58 162.44 L804.93 162.4 L805.27 162.36 L805.62 162.33 L805.96 162.29 L806.31 162.25 L806.65 162.22 L807 162.18 L807.35 162.14 L807.69 162.11 L808.04 162.07 L808.38 162.03 L808.73 162 L809.08 161.96 L809.42 161.92 L809.77 161.89 L810.11 161.85 L810.46 161.82 L810.81 161.78 L811.15 161.74 L811.5 161.71 L811.84 161.67 L812.19 161.64 L812.53 161.6 L812.88 161.57 L813.23 161.53 L813.57 161.5 L813.92 161.46 L814.26 161.43 L814.61 161.39 L814.96 161.36 L815.3 161.32 L815.65 161.29 L815.99 161.25 L816.34 161.22 L816.69 161.19 L817.03 161.15 L817.38 161.12 L817.72 161.08 L818.07 161.05 L818.42 161.02 L818.76 160.98 L819.11 160.95 L819.45 160.91 L819.8 160.88 L820.15 160.85 L820.49 160.81 L820.84 160.78 L821.18 160.75 L821.53 160.71 L821.88 160.68 L822.22 160.65 L822.57 160.61 L822.92 160.58 L823.26 160.55 L823.61 160.52 L823.95 160.48 L824.3 160.45 L824.65 160.42 L824.99 160.39 L825.34 160.35 L825.68 160.32 L826.03 160.29 L826.38 160.26 L826.72 160.23 L827.07 160.19 L827.41 160.16 L827.76 160.13 L828.11 160.1 L828.45 160.07 L828.8 160.04 L829.14 160 L829.49 159.97 L829.84 159.94 L830.18 159.91 L830.53 159.88 L830.88 159.85 L831.22 159.82 L831.57 159.79 L831.91 159.75 L832.26 159.72 L832.61 159.69 L832.95 159.66 L833.3 159.63 L833.64 159.6 L833.99 159.57 L834.34 159.54 L834.68 159.51 L835.03 159.48 L835.38 159.45 L835.72 159.42 L836.07 159.39 L836.41 159.36 L836.76 159.33 L837.11 159.3 L837.45 159.27 L837.8 159.24 L838.15 159.21 L838.49 159.18 L838.84 159.15 L839.18 159.12 L839.53 159.09 L839.88 159.06 L840.22 159.03 L840.57 159 L840.92 158.97 L841.26 158.95 L841.61 158.92 L841.95 158.89 L842.3 158.86 L842.65 158.83 L842.99 158.8 L843.34 158.77 L843.68 158.74 L844.03 158.71 L844.38 158.69 L844.72 158.66 L845.07 158.63 L845.42 158.6 L845.76 158.57 L846.11 158.54 L846.46 158.51 L846.8 158.49 L847.15 158.46 L847.49 158.43 L847.84 158.4 L848.19 158.37 L848.53 158.35 L848.88 158.32 L849.23 158.29 L849.57 158.26 L849.92 158.23 L850.26 158.21 L850.61 158.18 L850.96 158.15 L851.3 158.12 L851.65 158.1 L852 158.07 L852.34 158.04 L852.69 158.01 L853.03 157.99 L853.38 157.96 L853.73 157.93 L854.07 157.91 L854.42 157.88 L854.77 157.85 L855.11 157.82 L855.46 157.8 L855.81 157.77 L856.15 157.74 L856.5 157.72 L856.84 157.69 L857.19 157.66 L857.54 157.64 L857.88 157.61 L858.23 157.58 L858.58 157.56 L858.92 157.53 L859.27 157.5 L859.61 157.48 L859.96 157.45 L860.31 157.42 L860.65 157.4 L861 157.37 L861.35 157.35 L861.69 157.32 L862.04 157.29 L862.39 157.27 L862.73 157.24 L863.08 157.21 L863.42 157.19 L863.77 157.16 L864.12 157.14 L864.46 157.11 L864.81 157.08 L865.16 157.06 L865.5 157.03 L865.85 157.01 L866.2 156.98 L866.54 156.96 L866.89 156.93 L867.23 156.9 L867.58 156.88 L867.93 156.85 L868.27 156.83 L868.62 156.8 L868.97 156.78 L869.31 156.75 L869.66 156.73 L870.01 156.7 L870.35 156.68 L870.7 156.65 L871.04 156.62 L871.39 156.6 L871.74 156.57 L872.08 156.55 L872.43 156.52 L872.78 156.5 L873.12 156.47 L873.47 156.45 L873.82 156.42 L874.16 156.4 L874.51 156.37 L874.85 156.35 L875.2 156.32 L875.55 156.3 L875.89 156.27 L876.24 156.25 L876.59 156.22 L876.93 156.2 L877.28 156.17 L877.63 156.15 L877.97 156.12 L878.32 156.1 L878.67 156.08 L879.01 156.05 L879.36 156.03 L879.7 156 L880.05 155.98 L880.4 155.95 L880.74 155.93 L881.09 155.9 L881.44 155.88 L881.78 155.85 L882.13 155.83 L882.48 155.8 L882.82 155.78 L883.17 155.76 L883.51 155.73 L883.86 155.71 L884.21 155.68 L884.55 155.66 L884.9 155.63 L885.25 155.61 L885.59 155.58 L885.94 155.56 L886.29 155.54 L886.63 155.51 L886.98 155.49 L887.33 155.46 L887.67 155.44 L888.02 155.41 L888.36 155.39 L888.71 155.37 L889.06 155.34 L889.4 155.32 L889.75 155.29 L890.1 155.27 L890.44 155.25 L890.79 155.22 L891.14 155.2 L891.48 155.17 L891.83 155.15 L892.18 155.12 L892.52 155.1 L892.87 155.08 L893.21 155.05 L893.56 155.03 L893.91 155 L894.25 154.98 L894.6 154.96 L894.95 154.93 L895.29 154.91 L895.64 154.88 L895.99 154.86 L896.33 154.84 L896.68 154.81 L897.03 154.79 L897.37 154.76 L897.72 154.74 L898.06 154.72 L898.41 154.69 L898.76 154.67 L899.1 154.64 L899.45 154.62 L899.8 154.59 L900.14 154.57 L900.49 154.55 L900.84 154.52 L901.18 154.5 L901.53 154.47 L901.88 154.45 L902.22 154.43 L902.57 154.4 L902.91 154.38 L903.26 154.35 L903.61 154.33 L903.95 154.31 L904.3 154.28 L904.65 154.26 L904.99 154.23 L905.34 154.21 L905.69 154.19 L906.03 154.16 L906.38 154.14 L906.73 154.11 L907.07 154.09 L907.42 154.07 L907.76 154.04 L908.11 154.02 L908.46 153.99 L908.8 153.97 L909.15 153.94 L909.5 153.92 L909.84 153.9 L910.19 153.87 L910.54 153.85 L910.88 153.82 L911.23 153.8 L911.58 153.77 L911.92 153.75 L912.27 153.73 L912.61 153.7 L912.96 153.68 L913.31 153.65 L913.65 153.63 L914 153.6 L914.35 153.58 L914.69 153.56 L915.04 153.53 L915.39 153.51 L915.73 153.48 L916.08 153.46 L916.42 153.43 L916.77 153.41 L917.12 153.38 L917.46 153.36 L917.81 153.34 L918.16 153.31 L918.5 153.29 L918.85 153.26 L919.2 153.24 L919.54 153.21 L919.89 153.19 L920.24 153.16 L920.58 153.14 L920.93 153.11 L921.27 153.09 L921.62 153.06 L921.97 153.04 L922.31 153.02 L922.66 152.99 L923.01 152.97 L923.35 152.94 L923.7 152.92 L924.05 152.89 L924.39 152.87 L924.74 152.84 L925.09 152.82 L925.43 152.79 L925.78 152.77 L926.12 152.74 L926.47 152.72 L926.82 152.69 L927.16 152.67 L927.51 152.64 L927.86 152.62 L928.2 152.59 L928.55 152.56 L928.9 152.54 L929.24 152.51 L929.59 152.49 L929.93 152.46 L930.28 152.44 L930.63 152.41 L930.97 152.39 L931.32 152.36 L931.67 152.34 L932.01 152.31 L932.36 152.28 L932.71 152.26 L933.05 152.23 L933.4 152.21 L933.74 152.18 L934.09 152.16 L934.44 152.13 L934.78 152.1 L935.13 152.08 L935.48 152.05 L935.82 152.03 L936.17 152 L936.52 151.97 L936.88 151.95 L937.25 151.92 L937.62 151.89 L938 151.86 L938.37 151.83 L938.74 151.81 L939.09 151.78 L939.43 151.75 L939.75 151.73 L940.05 151.71 L940.32 151.69 L940.57 151.67 L940.81 151.65 L941.04 151.63 L941.25 151.62 L941.45 151.6 L941.63 151.59 L941.8 151.57" stroke="#00f" stroke-width="2.6" fill="none" stroke-linejoin="round"/>
<path d="M570.4 260.1 H943" stroke="#f0f" stroke-width="2.6" stroke-dasharray="8.7 17.35" fill="none"/>
<path d="M583.1 279.6 V60" stroke="#f0f" stroke-width="2.9" stroke-dasharray="8.7 17.3" fill="none"/>
</g>
<rect x="570.7" y="64.5" width="371.3" height="215" fill="none" stroke="#000" stroke-width="1"/>
<path d="M607.85 279.5 v-3.6 M607.85 64.5 v3.6 M645 279.5 v-3.6 M645 64.5 v3.6 M682.15 279.5 v-3.6 M682.15 64.5 v3.6 M719.3 279.5 v-3.6 M719.3 64.5 v3.6 M756.45 279.5 v-3.6 M756.45 64.5 v3.6 M793.6 279.5 v-3.6 M793.6 64.5 v3.6 M830.75 279.5 v-3.6 M830.75 64.5 v3.6 M867.9 279.5 v-3.6 M867.9 64.5 v3.6 M905.05 279.5 v-3.6 M905.05 64.5 v3.6 M570.7 240.48 h3.6 M942 240.48 h-3.6 M570.7 201.46 h3.6 M942 201.46 h-3.6 M570.7 162.44 h3.6 M942 162.44 h-3.6 M570.7 123.42 h3.6 M942 123.42 h-3.6 M570.7 84.4 h3.6 M942 84.4 h-3.6" stroke="#000" stroke-width="0.45" fill="none"/>
<path d="M600.4 86.1 H644" stroke="#000" stroke-width="2.9" fill="none"/>
<path d="M636.9 81.5 L644.2 86.1 L636.9 90.7" stroke="#000" stroke-width="3.5" fill="none" stroke-linejoin="miter" stroke-linecap="round"/>
<text transform="translate(663.5,90.4) scale(1.087,1)" text-anchor="start" font-size="20" >R<tspan font-size="16" dy="6.2">cross</tspan><tspan dy="-3.4"> =</tspan><tspan dy="-2.8"> (6.5-6.8) kpc</tspan></text>
<text transform="translate(756.3,39.2) scale(1.087,1)" text-anchor="middle" font-size="20" >Specific angular momentum</text>
<text transform="translate(756.7,340.5) scale(1.087,1)" text-anchor="middle" font-size="20" >Radius (kpc)</text>
<text transform="translate(573.3,307.5) scale(1.087,1)" text-anchor="middle" font-size="20" >0</text>
<text transform="translate(610.45,307.5) scale(1.087,1)" text-anchor="middle" font-size="20" >20</text>
<text transform="translate(647.6,307.5) scale(1.087,1)" text-anchor="middle" font-size="20" >40</text>
<text transform="translate(684.75,307.5) scale(1.087,1)" text-anchor="middle" font-size="20" >60</text>
<text transform="translate(721.9,307.5) scale(1.087,1)" text-anchor="middle" font-size="20" >80</text>
<text transform="translate(759.05,307.5) scale(1.087,1)" text-anchor="middle" font-size="20" >100</text>
<text transform="translate(796.2,307.5) scale(1.087,1)" text-anchor="middle" font-size="20" >120</text>
<text transform="translate(833.35,307.5) scale(1.087,1)" text-anchor="middle" font-size="20" >140</text>
<text transform="translate(870.5,307.5) scale(1.087,1)" text-anchor="middle" font-size="20" >160</text>
<text transform="translate(907.65,307.5) scale(1.087,1)" text-anchor="middle" font-size="20" >180</text>
<text transform="translate(944.8,307.5) scale(1.087,1)" text-anchor="middle" font-size="20" >200</text>
<text transform="translate(557.4,286.3) scale(1.087,1)" text-anchor="end" font-size="20" >0</text>
<text transform="translate(557.4,247.28) scale(1.087,1)" text-anchor="end" font-size="20" >2</text>
<text transform="translate(557.4,208.26) scale(1.087,1)" text-anchor="end" font-size="20" >4</text>
<text transform="translate(557.4,169.24) scale(1.087,1)" text-anchor="end" font-size="20" >6</text>
<text transform="translate(557.4,130.22) scale(1.087,1)" text-anchor="end" font-size="20" >8</text>
<text transform="translate(557.4,91.2) scale(1.087,1)" text-anchor="end" font-size="20" >10</text>
<text transform="translate(513.4,172) rotate(-90) scale(1.087,1)" text-anchor="middle" font-size="20">l / l<tspan font-size="16" dy="6">d</tspan></text>
</svg>
</body></html>
